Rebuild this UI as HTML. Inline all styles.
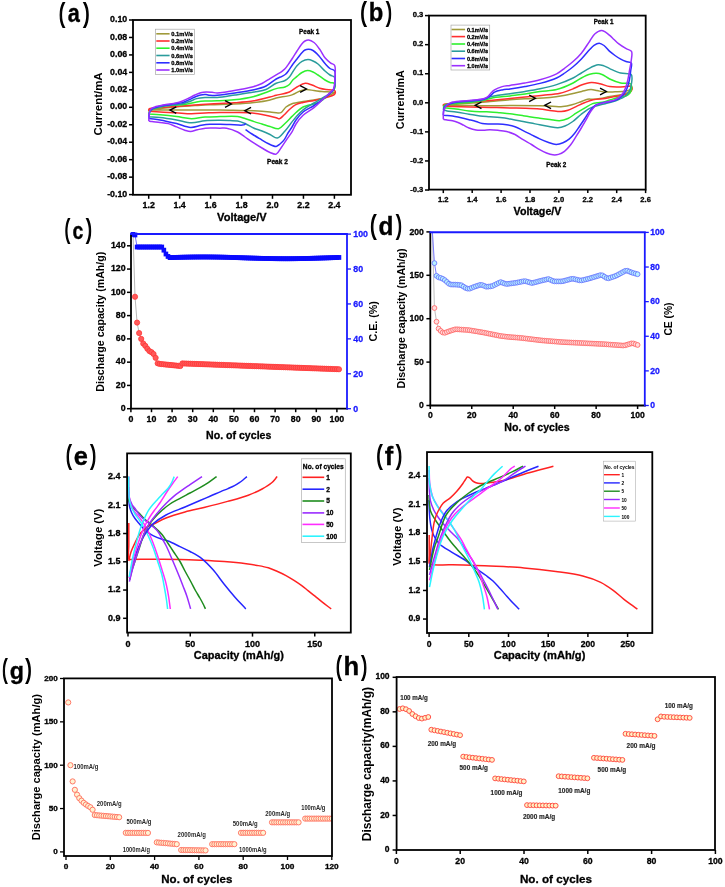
<!DOCTYPE html>
<html><head><meta charset="utf-8"><style>
html,body{margin:0;padding:0;background:#fff;}
svg{display:block;font-family:"Liberation Sans", sans-serif;will-change:transform;filter:blur(0.35px);}
</style></head><body>
<svg width="725" height="887" viewBox="0 0 725 887">
<rect width="725" height="887" fill="#fff"/>
<line x1="129" y1="20" x2="133" y2="20" stroke="#000" stroke-width="1.5"/>
<text x="127.2" y="22.17" font-size="8.8" text-anchor="end" font-weight="bold" stroke="#000" stroke-width="0.3">0.10</text>
<line x1="129" y1="37.46" x2="133" y2="37.46" stroke="#000" stroke-width="1.5"/>
<text x="127.2" y="39.63" font-size="8.8" text-anchor="end" font-weight="bold" stroke="#000" stroke-width="0.3">0.08</text>
<line x1="129" y1="54.92" x2="133" y2="54.92" stroke="#000" stroke-width="1.5"/>
<text x="127.2" y="57.09" font-size="8.8" text-anchor="end" font-weight="bold" stroke="#000" stroke-width="0.3">0.06</text>
<line x1="129" y1="72.38" x2="133" y2="72.38" stroke="#000" stroke-width="1.5"/>
<text x="127.2" y="74.55" font-size="8.8" text-anchor="end" font-weight="bold" stroke="#000" stroke-width="0.3">0.04</text>
<line x1="129" y1="89.84" x2="133" y2="89.84" stroke="#000" stroke-width="1.5"/>
<text x="127.2" y="92.01" font-size="8.8" text-anchor="end" font-weight="bold" stroke="#000" stroke-width="0.3">0.02</text>
<line x1="129" y1="107.3" x2="133" y2="107.3" stroke="#000" stroke-width="1.5"/>
<text x="127.2" y="109.47" font-size="8.8" text-anchor="end" font-weight="bold" stroke="#000" stroke-width="0.3">0.00</text>
<line x1="129" y1="124.76" x2="133" y2="124.76" stroke="#000" stroke-width="1.5"/>
<text x="127.2" y="126.93" font-size="8.8" text-anchor="end" font-weight="bold" stroke="#000" stroke-width="0.3">-0.02</text>
<line x1="129" y1="142.22" x2="133" y2="142.22" stroke="#000" stroke-width="1.5"/>
<text x="127.2" y="144.39" font-size="8.8" text-anchor="end" font-weight="bold" stroke="#000" stroke-width="0.3">-0.04</text>
<line x1="129" y1="159.68" x2="133" y2="159.68" stroke="#000" stroke-width="1.5"/>
<text x="127.2" y="161.85" font-size="8.8" text-anchor="end" font-weight="bold" stroke="#000" stroke-width="0.3">-0.06</text>
<line x1="129" y1="177.14" x2="133" y2="177.14" stroke="#000" stroke-width="1.5"/>
<text x="127.2" y="179.31" font-size="8.8" text-anchor="end" font-weight="bold" stroke="#000" stroke-width="0.3">-0.08</text>
<line x1="129" y1="194.6" x2="133" y2="194.6" stroke="#000" stroke-width="1.5"/>
<text x="127.2" y="196.77" font-size="8.8" text-anchor="end" font-weight="bold" stroke="#000" stroke-width="0.3">-0.10</text>
<line x1="148.7" y1="194.8" x2="148.7" y2="198.8" stroke="#000" stroke-width="1.5"/>
<text x="148.7" y="208.4" font-size="8.8" text-anchor="middle" font-weight="bold" stroke="#000" stroke-width="0.3">1.2</text>
<line x1="179.65" y1="194.8" x2="179.65" y2="198.8" stroke="#000" stroke-width="1.5"/>
<text x="179.65" y="208.4" font-size="8.8" text-anchor="middle" font-weight="bold" stroke="#000" stroke-width="0.3">1.4</text>
<line x1="210.6" y1="194.8" x2="210.6" y2="198.8" stroke="#000" stroke-width="1.5"/>
<text x="210.6" y="208.4" font-size="8.8" text-anchor="middle" font-weight="bold" stroke="#000" stroke-width="0.3">1.6</text>
<line x1="241.55" y1="194.8" x2="241.55" y2="198.8" stroke="#000" stroke-width="1.5"/>
<text x="241.55" y="208.4" font-size="8.8" text-anchor="middle" font-weight="bold" stroke="#000" stroke-width="0.3">1.8</text>
<line x1="272.5" y1="194.8" x2="272.5" y2="198.8" stroke="#000" stroke-width="1.5"/>
<text x="272.5" y="208.4" font-size="8.8" text-anchor="middle" font-weight="bold" stroke="#000" stroke-width="0.3">2.0</text>
<line x1="303.45" y1="194.8" x2="303.45" y2="198.8" stroke="#000" stroke-width="1.5"/>
<text x="303.45" y="208.4" font-size="8.8" text-anchor="middle" font-weight="bold" stroke="#000" stroke-width="0.3">2.2</text>
<line x1="334.4" y1="194.8" x2="334.4" y2="198.8" stroke="#000" stroke-width="1.5"/>
<text x="334.4" y="208.4" font-size="8.8" text-anchor="middle" font-weight="bold" stroke="#000" stroke-width="0.3">2.4</text>
<text x="241.9" y="220.9" font-size="10.8" text-anchor="middle" font-weight="bold" textLength="49.6" lengthAdjust="spacingAndGlyphs" stroke="#000" stroke-width="0.3">Voltage/V</text>
<text x="101.76" y="103.9" font-size="11.4" font-weight="bold" text-anchor="middle" fill="#000" textLength="63" lengthAdjust="spacingAndGlyphs" transform="rotate(-90 101.76 103.9)">Current/mA</text>
<path d="M148.7,109.8 C152.47,109.37 155.9,108.93 160,108.5 C164.87,107.99 170.44,107.47 176,107 C182.06,106.49 189.04,106 195,105.6 C200.29,105.25 204.41,104.95 210,104.7 C217.06,104.39 226.36,104.4 234,104 C241,103.64 247.81,103.25 254.1,102.5 C259.73,101.83 265.95,100.85 270,99.9 C272.57,99.3 273.64,98.64 276.2,98 C280.24,96.99 287.7,96.34 292,94.9 C295.2,93.83 297.48,91.9 300,91 C302.1,90.25 303.84,89.73 306,89.6 C308.46,89.46 311.33,90.18 314,90.5 C316.67,90.82 319.19,91.24 322,91.5 C325.1,91.79 329.53,91.87 331.8,92.1 C333.02,92.22 334.54,92.16 334.6,92.5 C334.68,92.96 331.55,94.14 330,95 C328.41,95.88 327.21,96.95 325.2,97.7 C322.31,98.78 317.72,99.36 314,100 C310.35,100.62 306.74,100.89 303.1,101.5 C299.41,102.12 295.06,102.58 292,103.7 C289.62,104.57 287.8,105.57 286,107 C284.11,108.5 282.61,111.75 281,112.6 C279.98,113.14 279.24,112.99 278,113 C275.97,113.01 273.12,112.31 270,112 C265.61,111.56 259.24,111.05 254.1,110.8 C249.26,110.57 245.11,110.62 240,110.5 C233.91,110.36 227.34,110.09 220,110 C211.01,109.89 200,110 190,110 C180,110 167.54,110.03 160,110 C155.43,109.98 152.67,109.93 149,109.9" fill="none" stroke="#a09a3a" stroke-width="1.5" stroke-linejoin="round"/>
<path d="M148.9,111.2 C148.87,110.67 148.67,110.05 148.8,109.6 C148.91,109.21 149.11,108.85 149.5,108.6 C150.11,108.21 151.27,108.25 152.5,108.1 C154.43,107.86 157.03,107.72 160,107.5 C164.33,107.18 170.44,106.8 176,106.4 C182.06,105.97 189.04,105.42 195,105 C200.29,104.63 204.41,104.33 210,104 C217.06,103.59 226.36,103.37 234,102.8 C241,102.28 247.83,101.86 254.1,100.8 C259.74,99.85 265.93,98.04 270,97 C272.55,96.35 273.74,95.94 276.2,95.3 C279.77,94.36 285.72,93.62 289.4,92 C292.41,90.68 294.35,88.45 297,87 C299.65,85.55 302.64,83.53 305.3,83.3 C307.62,83.1 309.72,84.23 312,85 C314.51,85.85 317.22,87.54 319.7,88.3 C321.87,88.96 323.94,89.23 326,89.5 C327.97,89.75 330.2,89.61 331.8,89.9 C332.98,90.11 334.32,90.11 334.8,90.8 C335.31,91.53 335.33,93.32 334.6,94.3 C333.36,95.96 328.49,96.71 325.2,97.7 C321.68,98.76 317.81,99.6 314.1,100.4 C310.41,101.2 306.33,101.68 303,102.5 C300.21,103.18 297.63,103.65 295.4,104.8 C293.33,105.87 291.8,107.41 290,109 C288,110.77 285.89,113.26 284,115 C282.42,116.45 280.96,118.52 279.5,118.8 C278.38,119.02 277.7,118.12 276.2,117.7 C273.13,116.85 266.68,115.32 262,114.5 C257.49,113.71 253.44,113.13 248.6,112.8 C242.92,112.41 235.25,112.68 230,112.6 C226.15,112.54 223.67,112.36 220,112.4 C215.5,112.44 209.87,112.78 205,113 C200.38,113.21 196.15,113.71 191.5,113.7 C186.51,113.68 181.21,113.08 176,112.8 C170.71,112.51 164.85,112.3 160,112 C155.96,111.75 152.6,111.47 148.9,111.2" fill="none" stroke="#ff2e2e" stroke-width="1.5" stroke-linejoin="round"/>
<path d="M148.9,113.9 C149.03,113.17 148.97,112.37 149.3,111.7 C149.65,110.99 150.23,110.31 151,109.8 C151.99,109.14 153.58,108.8 155,108.4 C156.56,107.96 158.26,107.72 160,107.3 C161.91,106.83 163.48,106.1 166,105.7 C170.13,105.04 177.32,105.48 182.6,104.8 C187.52,104.16 192.61,102.54 196.7,101.9 C199.82,101.41 201.96,101.19 205,101 C208.67,100.77 212.81,100.97 217.2,100.8 C222.35,100.6 228.17,100.46 234,99.8 C240.42,99.07 248.32,97.83 254.1,96.4 C258.63,95.28 262.2,93.85 266,92.5 C269.55,91.24 272.88,89.53 276.2,88.6 C279.2,87.76 282.63,87.86 285,87 C286.78,86.35 288.1,85.63 289.4,84.5 C290.8,83.28 291.69,81.18 293,79.8 C294.23,78.5 295.58,77.56 297,76.4 C298.56,75.13 300.21,73.47 302,72.5 C303.72,71.57 305.66,70.68 307.5,70.6 C309.32,70.52 311.26,71.28 313,72 C314.76,72.73 316.22,73.83 318,75 C320.16,76.42 322.81,78.68 325,80 C326.76,81.06 328.33,81.91 330,82.5 C331.53,83.04 333.81,82.56 334.6,83.5 C335.38,84.42 335.17,86.77 334.8,88 C334.5,89.02 333.74,89.71 333,90.5 C332.17,91.39 331.29,91.9 330,93 C327.58,95.06 323.83,99.71 319.7,102 C315.05,104.57 307.33,104.82 303.1,107 C300.06,108.57 297.99,110.77 296,112.5 C294.43,113.86 293.51,114.9 292,116.4 C289.98,118.41 287.34,121.36 285,123.5 C282.87,125.45 281.05,128.27 278.6,128.8 C276.07,129.35 272.81,127.31 270,126.5 C267.28,125.71 264.66,124.82 262,124 C259.36,123.19 256.82,122.48 254.1,121.6 C251.17,120.65 247.89,119.36 245,118.5 C242.42,117.73 240.62,116.98 237.6,116.6 C233.01,116.02 225.63,116.52 220,116.6 C214.8,116.67 209.86,116.63 205,117 C200.37,117.35 196.11,118.73 191.5,118.7 C186.65,118.66 181.71,117.24 176.6,116.6 C171.22,115.93 164.98,115.27 160,114.8 C155.93,114.41 152.6,114.2 148.9,113.9" fill="none" stroke="#2ef02e" stroke-width="1.5" stroke-linejoin="round"/>
<path d="M148.9,116.8 C149,115.8 148.96,114.77 149.2,113.8 C149.45,112.81 149.76,111.72 150.4,110.9 C151.07,110.04 152.08,109.37 153.2,108.8 C154.54,108.12 156.18,107.76 158,107.3 C160.31,106.71 162.84,106.21 166,105.7 C170.52,104.98 178.26,104.63 182.6,103.7 C185.5,103.08 187.36,102.34 189.7,101.5 C192.06,100.65 194.22,99.27 196.7,98.6 C199.31,97.9 201.96,97.7 205,97.5 C208.67,97.26 212.76,97.81 217.2,97.5 C222.59,97.12 228.97,95.9 235,95 C241.26,94.07 248.49,93.03 254.1,92 C258.55,91.18 262.3,90.96 266,89.5 C269.66,88.05 272.83,84.83 276.2,83.3 C279.16,81.95 282.66,81.75 285,80.5 C286.83,79.53 288.1,78.42 289.4,77 C290.8,75.46 291.75,73.34 293,71.5 C294.28,69.61 295.48,67.51 297,65.8 C298.49,64.12 300.12,62.34 302,61.3 C303.81,60.3 306.09,59.6 308,59.6 C309.74,59.6 311.38,60.3 313,61 C314.72,61.74 316.28,62.66 318,64 C320.24,65.75 322.81,69.04 325,71 C326.76,72.58 328.31,73.9 330,75 C331.52,75.99 333.74,76.02 334.6,77.4 C335.65,79.08 334.98,82.88 334.8,85 C334.67,86.55 334.52,87.81 334,89 C333.5,90.13 332.85,90.99 331.8,92 C330.24,93.49 327.56,94.9 325,96.5 C321.79,98.51 317.65,100.79 314,103 C310.34,105.22 306.22,107.3 303.1,109.8 C300.33,112.02 297.99,114.79 296,117 C294.43,118.75 293.5,120 292,121.9 C289.97,124.46 287.51,128.25 285,131 C282.6,133.63 279.97,137.71 277.3,138.1 C274.95,138.44 272.5,135.66 270,134.5 C267.41,133.29 264.68,132.06 262,131 C259.38,129.96 256.79,129.36 254.1,128.2 C251.13,126.91 247.92,124.74 245,123.5 C242.45,122.42 240.12,121.48 237.6,121 C235.12,120.52 232.71,120.71 230,120.6 C226.9,120.47 223.67,120.31 220,120.3 C215.51,120.29 209.85,120.26 205,120.7 C200.37,121.12 196.1,122.89 191.5,122.8 C186.65,122.71 181.71,120.78 176.6,119.9 C171.23,118.97 164.99,117.91 160,117.4 C155.94,116.99 152.6,117 148.9,116.8" fill="none" stroke="#2a9c9c" stroke-width="1.5" stroke-linejoin="round"/>
<path d="M148.9,118.5 C148.97,117.27 148.92,116.02 149.1,114.8 C149.28,113.58 149.44,112.23 150,111.2 C150.53,110.21 151.35,109.34 152.3,108.7 C153.32,108.01 154.74,107.74 156,107.3 C157.3,106.84 158.52,106.35 160,106 C161.78,105.58 163.75,105.45 166,105.1 C168.91,104.65 173.01,103.94 176,103.5 C178.43,103.14 180.4,103.22 182.6,102.6 C184.97,101.93 187.51,100.49 189.7,99.5 C191.6,98.64 193.18,97.76 195,97 C196.85,96.23 198.81,95.29 200.7,94.9 C202.47,94.53 204.36,94.5 206,94.6 C207.43,94.68 208.47,95.18 210,95.3 C212.04,95.46 214.27,95.4 217.2,95.2 C221.82,94.88 228.97,93.88 235,93 C241.26,92.09 248.53,91.15 254.1,89.8 C258.58,88.72 262.31,87.81 266,86 C269.67,84.2 273.21,80.7 276.2,79 C278.35,77.77 280.33,77.17 282,76.3 C283.33,75.61 284.4,75.23 285.5,74.3 C286.8,73.2 287.92,71.51 289.1,69.9 C290.42,68.11 291.65,65.86 293,64 C294.29,62.23 295.63,60.75 297,59 C298.49,57.1 300.11,54.6 301.6,53 C302.76,51.76 303.76,50.61 305,50 C306.11,49.45 307.35,49.25 308.6,49.3 C310,49.35 311.52,49.68 313,50.5 C314.98,51.59 317.08,53.94 319,56 C321.09,58.24 323.03,61.3 325,63.5 C326.69,65.39 328.26,67.25 330,68.5 C331.48,69.57 333.67,69.32 334.6,70.8 C335.98,72.98 334.97,78.78 334.8,82 C334.67,84.46 334.67,86.81 334,88.5 C333.5,89.77 332.8,90.39 331.8,91.5 C330.25,93.23 327.76,95.43 325.2,97.5 C322.02,100.07 317.76,103.04 314,105.5 C310.39,107.86 306.18,109.45 303.1,112 C300.27,114.34 297.92,117.32 296,120 C294.33,122.32 293.37,124.78 292,127 C290.7,129.1 289.27,130.93 288,133 C286.7,135.12 285.72,137.7 284.3,139.6 C283.02,141.31 281.46,142.82 280,144 C278.75,145.01 277.76,146.23 276.2,146.4 C274.03,146.64 270.69,144.74 268,143.5 C265.18,142.2 262.41,140.31 259.7,138.7 C257.08,137.14 254.44,135.57 252,134 C249.72,132.54 247.67,131.07 245.5,129.6" fill="none" stroke="#2e2eff" stroke-width="1.5" stroke-linejoin="round"/>
<path d="M245.8,123.4 C245.4,123.8 245.12,124.32 244.6,124.6 C243.99,124.93 243.38,125.01 242.3,125.1 C239.83,125.31 233.89,124.76 230,124.6 C226.49,124.46 223.33,124.25 220,124.2 C216.67,124.15 213.2,124.1 210,124.3 C207.02,124.49 204.42,124.83 201.4,125.3 C198,125.83 194.42,127.54 190.6,127.4 C186.22,127.24 181.48,124.81 176.6,123.6 C171.32,122.29 164.71,120.71 160,119.9 C156.56,119.31 152.95,119.06 151,118.8 C150.06,118.67 149.6,118.6 148.9,118.5" fill="none" stroke="#2e2eff" stroke-width="1.5" stroke-linejoin="round"/>
<path d="M148.8,121 C148.87,119.5 148.87,118.01 149,116.5 C149.13,114.95 149.15,113.15 149.6,111.8 C149.98,110.65 150.51,109.57 151.3,108.8 C152.08,108.04 153.11,107.66 154.3,107.2 C155.87,106.6 158.07,106.23 160,105.8 C161.97,105.36 163.74,105 166,104.6 C168.9,104.09 173.04,103.79 176,103.1 C178.45,102.53 180.39,101.86 182.6,101 C184.95,100.08 187.51,98.76 189.7,97.7 C191.6,96.77 193.18,95.83 195,95 C196.85,94.16 198.79,93.22 200.7,92.7 C202.52,92.21 204.34,91.97 206.2,91.9 C208.1,91.83 210.12,92.11 212,92.3 C213.78,92.48 215.24,92.98 217.2,93 C219.75,93.03 222.74,92.48 226,92 C230.14,91.4 235.33,90.41 240,89.5 C244.7,88.58 250.11,87.67 254.1,86.5 C257.15,85.6 259.42,84.77 262,83.5 C264.72,82.16 267.5,80.13 270,78.6 C272.2,77.25 274.17,76.04 276.2,74.8 C278.16,73.61 280.42,72.43 282,71.3 C283.2,70.44 283.99,69.87 285,68.8 C286.34,67.38 287.78,65.18 289.1,63.3 C290.44,61.39 291.7,59.42 293,57.4 C294.34,55.32 295.6,53.15 297,51 C298.46,48.75 300.08,45.98 301.6,44.2 C302.74,42.86 303.76,41.72 305,41 C306.11,40.35 307.3,39.8 308.6,39.9 C310.24,40.03 312.31,41.18 314,42.5 C316.06,44.1 317.9,46.82 319.7,49.3 C321.65,51.98 323.19,55.69 325.2,58.1 C326.9,60.14 328.96,61.84 330.7,63.1 C332.05,64.08 333.75,63.87 334.6,65.3 C336.14,67.9 334.98,75.84 334.8,80 C334.67,83.07 334.75,86.05 334,88 C333.49,89.33 332.8,89.89 331.8,91 C330.25,92.73 327.68,94.7 325.2,97 C321.94,100.02 317.82,104.47 314,107.6 C310.44,110.51 306.18,112.42 303.1,115.3 C300.27,117.94 297.91,121.07 296,124 C294.31,126.61 293.54,129.34 292,131.9 C290.42,134.54 288.4,136.97 286.6,139.6 C284.73,142.33 282.84,145.46 281,148 C279.38,150.23 278.15,153.44 276.2,154.1 C274.43,154.7 272.14,153.36 270,152.5 C267.44,151.47 264.64,149.56 262,148 C259.34,146.43 256.81,144.85 254.1,143.1 C251.16,141.2 247.87,138.93 245,137 C242.4,135.25 240.41,133.41 237.6,132 C234.39,130.39 229.84,128.74 226.6,128.2 C224.16,127.79 222.63,128.2 220,128.2 C216.11,128.2 209.63,127.8 205.5,128.2 C202.36,128.5 199.89,129.22 197.3,129.8 C194.95,130.33 192.76,131.47 190.6,131.5 C188.6,131.53 186.87,130.84 184.8,130.2 C182.27,129.41 179.34,128 176.6,126.9 C173.84,125.8 171.11,124.35 168.3,123.6 C165.58,122.87 162.74,122.75 160,122.4 C157.31,122.05 154.06,121.78 152,121.5 C150.69,121.32 149.87,121.17 148.8,121" fill="none" stroke="#9b30ff" stroke-width="1.5" stroke-linejoin="round"/>
<rect x="155.4" y="29.2" width="39" height="45.4" fill="#fff" stroke="#a8a8a8" stroke-width="0.7"/>
<line x1="156.3" y1="33.8" x2="169.6" y2="33.8" stroke="#a09a3a" stroke-width="1.6"/>
<text x="171.3" y="36.03" font-size="6.2" font-weight="bold" textLength="21.7" lengthAdjust="spacingAndGlyphs" stroke="#000" stroke-width="0.3">0.1mV/s</text>
<line x1="156.3" y1="41" x2="169.6" y2="41" stroke="#ff2e2e" stroke-width="1.6"/>
<text x="171.3" y="43.23" font-size="6.2" font-weight="bold" textLength="21.7" lengthAdjust="spacingAndGlyphs" stroke="#000" stroke-width="0.3">0.2mV/s</text>
<line x1="156.3" y1="48.2" x2="169.6" y2="48.2" stroke="#2ef02e" stroke-width="1.6"/>
<text x="171.3" y="50.43" font-size="6.2" font-weight="bold" textLength="21.7" lengthAdjust="spacingAndGlyphs" stroke="#000" stroke-width="0.3">0.4mV/s</text>
<line x1="156.3" y1="55.5" x2="169.6" y2="55.5" stroke="#2a9c9c" stroke-width="1.6"/>
<text x="171.3" y="57.73" font-size="6.2" font-weight="bold" textLength="21.7" lengthAdjust="spacingAndGlyphs" stroke="#000" stroke-width="0.3">0.6mV/s</text>
<line x1="156.3" y1="62.8" x2="169.6" y2="62.8" stroke="#2e2eff" stroke-width="1.6"/>
<text x="171.3" y="65.03" font-size="6.2" font-weight="bold" textLength="21.7" lengthAdjust="spacingAndGlyphs" stroke="#000" stroke-width="0.3">0.8mV/s</text>
<line x1="156.3" y1="70" x2="169.6" y2="70" stroke="#9b30ff" stroke-width="1.6"/>
<text x="171.3" y="72.23" font-size="6.2" font-weight="bold" textLength="21.7" lengthAdjust="spacingAndGlyphs" stroke="#000" stroke-width="0.3">1.0mV/s</text>
<path d="M176.27,106.8 L170,110.1 L176.27,113.4" fill="none" stroke="#000" stroke-width="1.4"/>
<path d="M225.03,100.7 L231.3,104 L225.03,107.3" fill="none" stroke="#000" stroke-width="1.4"/>
<path d="M251.07,107.4 L244.8,110.7 L251.07,114" fill="none" stroke="#000" stroke-width="1.4"/>
<path d="M300.13,85.7 L306.4,89 L300.13,92.3" fill="none" stroke="#000" stroke-width="1.4"/>
<text x="309.2" y="33.7" font-size="6.4" text-anchor="middle" font-weight="bold" textLength="20.3" lengthAdjust="spacingAndGlyphs" stroke="#000" stroke-width="0.3">Peak 1</text>
<text x="277.4" y="164.2" font-size="6.5" text-anchor="middle" font-weight="bold" textLength="20.8" lengthAdjust="spacingAndGlyphs" stroke="#000" stroke-width="0.3">Peak 2</text>
<rect x="133" y="20" width="218" height="174.8" fill="none" stroke="#000" stroke-width="1.8"/>
<line x1="425" y1="15.6" x2="429" y2="15.6" stroke="#000" stroke-width="1.5"/>
<text x="423.3" y="17.34" font-size="7.6" text-anchor="end" font-weight="bold" stroke="#000" stroke-width="0.3">0.3</text>
<line x1="425" y1="44.67" x2="429" y2="44.67" stroke="#000" stroke-width="1.5"/>
<text x="423.3" y="46.41" font-size="7.6" text-anchor="end" font-weight="bold" stroke="#000" stroke-width="0.3">0.2</text>
<line x1="425" y1="73.74" x2="429" y2="73.74" stroke="#000" stroke-width="1.5"/>
<text x="423.3" y="75.48" font-size="7.6" text-anchor="end" font-weight="bold" stroke="#000" stroke-width="0.3">0.1</text>
<line x1="425" y1="102.81" x2="429" y2="102.81" stroke="#000" stroke-width="1.5"/>
<text x="423.3" y="104.55" font-size="7.6" text-anchor="end" font-weight="bold" stroke="#000" stroke-width="0.3">0.0</text>
<line x1="425" y1="131.88" x2="429" y2="131.88" stroke="#000" stroke-width="1.5"/>
<text x="423.3" y="133.62" font-size="7.6" text-anchor="end" font-weight="bold" stroke="#000" stroke-width="0.3">-0.1</text>
<line x1="425" y1="160.95" x2="429" y2="160.95" stroke="#000" stroke-width="1.5"/>
<text x="423.3" y="162.69" font-size="7.6" text-anchor="end" font-weight="bold" stroke="#000" stroke-width="0.3">-0.2</text>
<line x1="425" y1="190.02" x2="429" y2="190.02" stroke="#000" stroke-width="1.5"/>
<text x="423.3" y="191.76" font-size="7.6" text-anchor="end" font-weight="bold" stroke="#000" stroke-width="0.3">-0.3</text>
<line x1="443.3" y1="189.6" x2="443.3" y2="193.1" stroke="#000" stroke-width="1.5"/>
<text x="443.3" y="202.3" font-size="7.6" text-anchor="middle" font-weight="bold" stroke="#000" stroke-width="0.3">1.2</text>
<line x1="472.2" y1="189.6" x2="472.2" y2="193.1" stroke="#000" stroke-width="1.5"/>
<text x="472.2" y="202.3" font-size="7.6" text-anchor="middle" font-weight="bold" stroke="#000" stroke-width="0.3">1.4</text>
<line x1="501.1" y1="189.6" x2="501.1" y2="193.1" stroke="#000" stroke-width="1.5"/>
<text x="501.1" y="202.3" font-size="7.6" text-anchor="middle" font-weight="bold" stroke="#000" stroke-width="0.3">1.6</text>
<line x1="530" y1="189.6" x2="530" y2="193.1" stroke="#000" stroke-width="1.5"/>
<text x="530" y="202.3" font-size="7.6" text-anchor="middle" font-weight="bold" stroke="#000" stroke-width="0.3">1.8</text>
<line x1="558.9" y1="189.6" x2="558.9" y2="193.1" stroke="#000" stroke-width="1.5"/>
<text x="558.9" y="202.3" font-size="7.6" text-anchor="middle" font-weight="bold" stroke="#000" stroke-width="0.3">2.0</text>
<line x1="587.8" y1="189.6" x2="587.8" y2="193.1" stroke="#000" stroke-width="1.5"/>
<text x="587.8" y="202.3" font-size="7.6" text-anchor="middle" font-weight="bold" stroke="#000" stroke-width="0.3">2.2</text>
<line x1="616.7" y1="189.6" x2="616.7" y2="193.1" stroke="#000" stroke-width="1.5"/>
<text x="616.7" y="202.3" font-size="7.6" text-anchor="middle" font-weight="bold" stroke="#000" stroke-width="0.3">2.4</text>
<line x1="645.6" y1="189.6" x2="645.6" y2="193.1" stroke="#000" stroke-width="1.5"/>
<text x="645.6" y="202.3" font-size="7.6" text-anchor="middle" font-weight="bold" stroke="#000" stroke-width="0.3">2.6</text>
<text x="537.5" y="214.6" font-size="10.6" text-anchor="middle" font-weight="bold" textLength="47.9" lengthAdjust="spacingAndGlyphs" stroke="#000" stroke-width="0.3">Voltage/V</text>
<text x="404.36" y="99.7" font-size="10.8" font-weight="bold" text-anchor="middle" fill="#000" textLength="59" lengthAdjust="spacingAndGlyphs" transform="rotate(-90 404.36 99.7)">Current/mA</text>
<path d="M443.2,104.8 C451.83,104.27 460.93,103.78 469.1,103.2 C476.44,102.67 483.11,102.09 490,101.5 C496.74,100.92 503.81,100.16 510,99.7 C515.36,99.3 519.76,99.07 525,98.8 C530.75,98.5 537.58,98.38 543.1,98 C547.77,97.68 552.07,97.3 556,96.8 C559.33,96.37 562.27,95.88 565.2,95.3 C567.92,94.77 570.33,94.13 573,93.5 C575.82,92.83 578.75,92.04 581.7,91.4 C584.72,90.74 588.14,89.66 590.9,89.6 C593.14,89.55 594.9,90.12 597,90.5 C599.28,90.91 601.46,91.75 604.1,92 C607.33,92.31 611.34,91.96 615,91.8 C618.71,91.63 623.2,91.59 626.2,91 C628.29,90.59 631.21,88.97 631.4,89.3 C631.58,89.6 629.47,91.64 628,92.5 C626.12,93.6 623.39,94.17 620.7,94.8 C617.5,95.55 613.5,95.87 610,96.5 C606.6,97.11 603.04,98.04 600,98.5 C597.5,98.88 595.27,99.09 593.1,99.2 C591.17,99.3 589.48,98.86 587.6,99.2 C585.47,99.59 583.38,100.84 581,101.7 C578.24,102.7 575.05,103.98 572,104.8 C568.98,105.61 566,106.35 562.8,106.6 C559.36,106.87 555.72,106.33 552,106.2 C548.03,106.06 544.69,105.9 539.7,105.8 C531.95,105.65 518.92,105.59 510,105.6 C502.68,105.61 496.67,105.8 490,105.8 C483.33,105.8 477.14,105.66 470,105.6 C461.76,105.53 452.27,105.47 443.4,105.4" fill="none" stroke="#a09a3a" stroke-width="1.5" stroke-linejoin="round"/>
<path d="M443.4,106 C443.37,105.63 443.14,105.18 443.3,104.9 C443.47,104.59 443.85,104.49 444.5,104.3 C446.73,103.66 454.49,103.24 460,102.8 C466.26,102.29 473.9,102.01 480.1,101.5 C485.44,101.06 490.02,100.48 495,100 C499.99,99.52 505,99.1 510,98.6 C515,98.1 519.76,97.53 525,97 C530.75,96.42 537.17,95.95 543.1,95.3 C548.83,94.67 554.78,94.39 560,93.2 C564.7,92.13 569.26,90.32 573.1,88.8 C576.22,87.57 578.46,86.02 581.4,85 C584.51,83.92 588.09,82.76 591.3,82.6 C594.28,82.45 597.04,83.17 600,83.8 C603.17,84.47 606.56,86.08 609.7,86.6 C612.55,87.07 615.24,87 618,87 C620.74,87 623.79,86.73 626.2,86.6 C628.1,86.5 630.38,85.6 631.3,86.3 C632.03,86.86 632.26,88.47 632,89.5 C631.69,90.72 630.26,92.1 629,93 C627.64,93.98 625.94,94.46 624,95 C621.47,95.71 618.07,95.94 615,96.5 C611.75,97.1 608.49,97.96 605,98.5 C601.22,99.08 596.65,99.02 593.1,99.8 C590.1,100.46 587.73,101.42 585,102.5 C582.07,103.66 579,105.27 576.1,106.6 C573.34,107.87 570.63,109.46 568,110.3 C565.68,111.04 563.65,111.47 561.2,111.6 C558.37,111.74 555.28,111.17 552,110.8 C548.19,110.37 543.99,109.51 539.7,109.1 C535.03,108.65 529.93,108.48 525,108.3 C520.03,108.11 515.36,108.13 510,108 C503.81,107.85 496.67,107.55 490,107.4 C483.33,107.25 476.43,107.26 470,107.1 C464,106.95 457.48,106.72 452.6,106.5 C449.05,106.34 446.47,106.17 443.4,106" fill="none" stroke="#ff2e2e" stroke-width="1.5" stroke-linejoin="round"/>
<path d="M443.4,107.5 C443.53,106.97 443.49,106.35 443.8,105.9 C444.15,105.39 444.75,105.02 445.5,104.7 C446.61,104.22 447.97,104.07 450,103.8 C454.15,103.25 463.2,103.11 469.1,102.5 C474.22,101.97 479.38,101.37 483.4,100.5 C486.42,99.85 488,98.86 491.2,98.2 C496.08,97.19 504.09,96.64 510,95.9 C515.28,95.24 520.01,94.73 525,94 C530.01,93.27 534.86,92.22 540,91.5 C545.38,90.74 551.17,90.97 556.6,89.6 C562.2,88.19 568.61,85.23 573.1,83 C576.42,81.35 578.59,79.47 581.4,78 C584.12,76.58 587.03,75.08 589.7,74.3 C592.01,73.63 594.27,73.23 596.4,73.3 C598.36,73.36 600.05,73.74 602,74.5 C604.43,75.44 606.84,77.66 609.7,79 C612.98,80.54 617.06,82.17 620.7,83 C624.09,83.77 629.21,82.48 630.8,84 C631.92,85.07 631.67,87.45 631.5,89 C631.34,90.43 630.85,91.86 630,93 C629.08,94.23 627.67,95.27 626,96 C623.87,96.93 620.65,96.84 618,97.5 C615.31,98.17 612.46,99.2 610,100 C607.88,100.69 606.18,101.54 604.1,102 C601.87,102.5 599.08,102.49 597,102.8 C595.35,103.04 594.25,103 592.6,103.6 C590.14,104.49 586.8,106.87 584,108.5 C581.3,110.07 578.73,111.56 576.1,113.2 C573.4,114.89 570.84,117.24 568,118.5 C565.29,119.7 562.43,120.51 559.5,120.7 C556.44,120.9 553.23,119.91 550,119.5 C546.64,119.08 542.99,118.63 539.7,118.2 C536.68,117.8 533.83,117.43 531,117 C528.3,116.59 526.07,116.16 523.1,115.7 C519.28,115.11 514.08,114.3 510,113.8 C506.45,113.36 503.33,113.12 500,112.8 C496.67,112.48 493.34,112.07 490,111.9 C486.67,111.73 483.4,111.96 480,111.8 C476.44,111.64 472.89,111.33 469.1,110.9 C464.93,110.43 459.96,109.49 456,109 C452.72,108.6 449.32,108.41 447,108.1 C445.53,107.9 444.6,107.7 443.4,107.5" fill="none" stroke="#2ef02e" stroke-width="1.5" stroke-linejoin="round"/>
<path d="M443.4,110 C443.5,109.2 443.43,108.34 443.7,107.6 C443.97,106.87 444.38,106.15 445,105.6 C445.74,104.94 446.76,104.53 448,104.1 C449.81,103.48 452.25,103.09 455,102.7 C458.87,102.15 464.39,101.98 469.1,101.5 C473.85,101.02 479.41,100.84 483.4,99.8 C486.45,99.01 488.48,97.4 491.2,96.6 C494,95.78 496.97,95.47 500,95 C503.22,94.5 506.33,94.21 510,93.7 C514.5,93.08 520.01,92.32 525,91.5 C530.01,90.68 534.89,89.9 540,88.8 C545.41,87.63 551.13,86.38 556.6,84.6 C562.17,82.79 568.61,80.23 573.1,78 C576.42,76.35 578.63,74.65 581.4,73 C584.16,71.35 587.36,69.36 589.7,68.1 C591.35,67.21 592.56,66.58 594,66 C595.36,65.45 596.66,64.8 598.1,64.7 C599.65,64.59 601.28,64.97 603,65.5 C605.1,66.14 607.18,67.51 609.7,68.6 C612.9,69.98 617.02,72 620.7,73 C624.19,73.95 629.47,72.63 631.2,74.6 C632.83,76.46 631.8,81.02 631.4,84 C631.02,86.81 630.33,89.78 629,92 C627.78,94.04 626.07,95.58 624,97 C621.56,98.68 618.2,99.86 615,101 C611.56,102.23 607.38,103.12 604,104 C601.13,104.75 598.52,105.2 596,106 C593.64,106.75 591.57,107.37 589.3,108.6 C586.59,110.06 583.71,112.38 581,114.5 C578.21,116.68 575.59,119.53 572.8,121.5 C570.25,123.3 567.61,124.94 565,126 C562.64,126.96 560.41,127.67 557.9,127.8 C555.11,127.94 551.99,126.99 549,126.5 C545.93,126 542.74,125.39 539.7,124.8 C536.75,124.22 533.83,123.56 531,123 C528.31,122.47 526.06,122.06 523.1,121.5 C519.28,120.77 514.08,119.67 510,119 C506.45,118.41 503.34,117.97 500,117.6 C496.67,117.23 493.33,117.07 490,116.8 C486.67,116.53 483.4,116.42 480,116 C476.44,115.56 472.9,114.83 469.1,114.2 C464.93,113.51 459.96,112.57 456,112 C452.73,111.53 449.31,111.33 447,110.9 C445.52,110.63 444.6,110.3 443.4,110" fill="none" stroke="#2a9c9c" stroke-width="1.5" stroke-linejoin="round"/>
<path d="M443.3,115.3 C443.37,113.93 443.28,112.52 443.5,111.2 C443.72,109.92 443.98,108.54 444.6,107.5 C445.18,106.53 446.05,105.74 447,105.1 C448,104.42 449.25,104.05 450.5,103.6 C451.89,103.1 453.06,102.68 455,102.3 C458.37,101.64 464.38,101.31 469.1,100.8 C473.85,100.28 479.62,100.29 483.4,99.2 C486.1,98.42 488.08,97.26 490,96 C491.73,94.86 492.67,93.09 494.5,92.1 C496.62,90.95 499.6,90.43 502.2,89.9 C504.77,89.37 506.98,89.33 510,88.9 C514.19,88.3 520.01,87.41 525,86.5 C530.01,85.58 534.91,84.75 540,83.4 C545.43,81.96 552.13,80.06 556.6,78 C559.92,76.47 562.1,74.83 564.8,73 C567.6,71.1 570.4,69.07 573.1,66.8 C575.94,64.42 578.7,61.79 581.4,59 C584.24,56.07 587.35,52.1 589.7,49.6 C591.34,47.86 592.38,46.37 594,45.3 C595.56,44.27 597.51,43.15 599.2,43.2 C600.84,43.25 602.43,44.37 604,45.5 C605.95,46.9 607.77,49.67 609.7,51.4 C611.44,52.96 613.17,54.2 615,55.5 C616.84,56.81 618.79,58.18 620.7,59.2 C622.46,60.14 624.21,60.86 626,61.5 C627.75,62.12 630.43,61.76 631.3,63 C632.28,64.4 631.07,67.46 630.8,70 C630.48,73.04 630.07,76.82 629.4,80 C628.78,82.97 628.07,85.97 627,88.5 C626.05,90.74 624.99,92.76 623.5,94.5 C622,96.26 620.12,97.81 618,99 C615.68,100.3 612.61,101.2 610,101.8 C607.62,102.35 605.31,102.08 603,102.6 C600.64,103.13 598.17,103.66 596,105 C593.56,106.51 591.24,109.22 589.3,111.6 C587.42,113.9 586.14,116.53 584.5,119 C582.84,121.5 581.09,124.05 579.4,126.5 C577.76,128.88 576.23,131.38 574.5,133.5 C572.89,135.48 571.31,137.35 569.4,138.9 C567.48,140.45 565.24,141.88 563,142.8 C560.84,143.69 558.57,144.42 556.2,144.4 C553.59,144.37 550.71,143.2 548,142.3 C545.21,141.38 542.44,140.14 539.7,138.9 C536.93,137.64 534.25,136.17 531.5,134.8 C528.72,133.41 525.88,131.95 523.1,130.6 C520.38,129.28 517.78,127.77 515,126.8 C512.27,125.85 509.43,125.27 506.6,124.8 C503.77,124.33 500.82,124.13 498,124 C495.29,123.87 492.64,124.07 490,124 C487.41,123.93 484.71,124.06 482.3,123.6 C480.06,123.18 478.16,122.14 476,121.5 C473.76,120.84 471.56,120.32 469.1,119.7 C466.28,118.99 462.88,118.16 460,117.5 C457.41,116.91 455.01,116.25 452.6,115.9 C450.35,115.57 447.72,115.5 446,115.4 C444.9,115.34 444.2,115.33 443.3,115.3" fill="none" stroke="#2e2eff" stroke-width="1.5" stroke-linejoin="round"/>
<path d="M443.3,119.2 C443.33,117.3 443.21,115.3 443.4,113.5 C443.57,111.85 443.74,110.19 444.3,108.8 C444.81,107.52 445.58,106.34 446.5,105.4 C447.41,104.47 448.72,103.77 449.8,103.2 C450.74,102.71 451.25,102.43 452.6,102.1 C455.78,101.33 463.8,100.97 469.1,100.4 C474.04,99.87 480.03,99.78 483.4,98.8 C485.39,98.22 486.62,97.59 487.9,96.6 C489.14,95.64 489.9,94.12 491,93 C492.1,91.89 493.01,90.84 494.5,89.9 C496.49,88.64 499.58,87.35 502.2,86.6 C504.75,85.87 506.98,85.87 510,85.4 C514.19,84.74 520.01,83.95 525,83 C530.01,82.05 534.92,81.14 540,79.7 C545.44,78.16 552.16,76.19 556.6,73.9 C559.96,72.17 562.09,70.14 564.8,68.1 C567.59,66.01 570.4,63.91 573.1,61.5 C575.94,58.97 578.77,56.35 581.4,53.2 C584.33,49.68 587.23,44.71 589.7,41.2 C591.65,38.43 592.9,35.63 595,33.8 C596.87,32.16 599.49,30.47 601.4,30.4 C602.9,30.34 604.17,31.42 605.5,32.2 C606.94,33.05 608.32,34.23 609.7,35.4 C611.16,36.65 612.55,38.13 614,39.5 C615.48,40.9 616.73,42.32 618.5,43.7 C620.66,45.39 623.84,47.34 626.2,48.7 C628.1,49.8 630.56,49.83 631.5,51.4 C632.63,53.29 631.58,57.04 631.3,60 C630.99,63.22 630.18,66.67 629.6,70 C629.02,73.33 628.55,76.82 627.8,80 C627.1,82.97 626.41,85.92 625.3,88.5 C624.27,90.88 623.09,93.18 621.5,95 C619.97,96.75 618.12,98.19 616,99.3 C613.68,100.52 610.64,101.07 608,101.8 C605.47,102.5 602.67,102.9 600.5,103.6 C598.76,104.17 597.35,104.47 595.9,105.5 C594.14,106.75 592.53,108.85 591,111 C589.19,113.53 587.68,116.96 586,119.9 C584.34,122.8 582.68,125.71 581,128.5 C579.38,131.2 577.8,133.72 576.1,136.4 C574.31,139.22 572.53,142.44 570.5,145 C568.63,147.36 566.64,149.69 564.5,151.3 C562.61,152.72 560.52,153.83 558.5,154.4 C556.65,154.92 554.81,154.99 552.9,154.8 C550.82,154.59 548.63,153.81 546.5,153 C544.23,152.14 542.03,151 539.7,149.7 C537.05,148.23 534.27,146.17 531.5,144.5 C528.74,142.83 525.85,141.37 523.1,139.7 C520.35,138.04 517.81,135.88 515,134.5 C512.3,133.17 509.45,132.2 506.6,131.5 C503.78,130.81 500.82,130.58 498,130.3 C495.29,130.03 492.54,129.8 490,129.8 C487.69,129.8 485.66,130.16 483.4,130.2 C481,130.24 478.41,130.37 476,130 C473.61,129.63 471.14,128.85 469,128 C467.04,127.22 465.42,126.11 463.6,125.2 C461.76,124.28 459.88,123.24 458,122.5 C456.21,121.79 454.51,121.24 452.6,120.8 C450.53,120.32 447.71,120.12 446,119.8 C444.9,119.59 444.2,119.4 443.3,119.2" fill="none" stroke="#9b30ff" stroke-width="1.5" stroke-linejoin="round"/>
<rect x="451" y="25.1" width="38.7" height="44.9" fill="#fff" stroke="#a8a8a8" stroke-width="0.7"/>
<line x1="451.6" y1="29.5" x2="465.1" y2="29.5" stroke="#a09a3a" stroke-width="1.6"/>
<text x="466.9" y="31.66" font-size="6" font-weight="bold" textLength="21.3" lengthAdjust="spacingAndGlyphs" stroke="#000" stroke-width="0.3">0.1mV/s</text>
<line x1="451.6" y1="36.6" x2="465.1" y2="36.6" stroke="#ff2e2e" stroke-width="1.6"/>
<text x="466.9" y="38.76" font-size="6" font-weight="bold" textLength="21.3" lengthAdjust="spacingAndGlyphs" stroke="#000" stroke-width="0.3">0.2mV/s</text>
<line x1="451.6" y1="44" x2="465.1" y2="44" stroke="#2ef02e" stroke-width="1.6"/>
<text x="466.9" y="46.16" font-size="6" font-weight="bold" textLength="21.3" lengthAdjust="spacingAndGlyphs" stroke="#000" stroke-width="0.3">0.4mV/s</text>
<line x1="451.6" y1="51.2" x2="465.1" y2="51.2" stroke="#2a9c9c" stroke-width="1.6"/>
<text x="466.9" y="53.36" font-size="6" font-weight="bold" textLength="21.3" lengthAdjust="spacingAndGlyphs" stroke="#000" stroke-width="0.3">0.6mV/s</text>
<line x1="451.6" y1="58.5" x2="465.1" y2="58.5" stroke="#2e2eff" stroke-width="1.6"/>
<text x="466.9" y="60.66" font-size="6" font-weight="bold" textLength="21.3" lengthAdjust="spacingAndGlyphs" stroke="#000" stroke-width="0.3">0.8mV/s</text>
<line x1="451.6" y1="65.7" x2="465.1" y2="65.7" stroke="#9b30ff" stroke-width="1.6"/>
<text x="466.9" y="67.86" font-size="6" font-weight="bold" textLength="21.3" lengthAdjust="spacingAndGlyphs" stroke="#000" stroke-width="0.3">1.0mV/s</text>
<path d="M481.47,102 L475.2,105.3 L481.47,108.6" fill="none" stroke="#000" stroke-width="1.4"/>
<path d="M529.13,95 L535.4,98.3 L529.13,101.6" fill="none" stroke="#000" stroke-width="1.4"/>
<path d="M551.07,102 L544.8,105.3 L551.07,108.6" fill="none" stroke="#000" stroke-width="1.4"/>
<path d="M600.03,88.2 L606.3,91.5 L600.03,94.8" fill="none" stroke="#000" stroke-width="1.4"/>
<text x="603.6" y="24.2" font-size="6.4" text-anchor="middle" font-weight="bold" textLength="19.8" lengthAdjust="spacingAndGlyphs" stroke="#000" stroke-width="0.3">Peak 1</text>
<text x="556.2" y="167" font-size="6.4" text-anchor="middle" font-weight="bold" textLength="20" lengthAdjust="spacingAndGlyphs" stroke="#000" stroke-width="0.3">Peak 2</text>
<rect x="429" y="15.6" width="216.7" height="174" fill="none" stroke="#000" stroke-width="1.8"/>
<line x1="127" y1="408.7" x2="131" y2="408.7" stroke="#000" stroke-width="1.5"/>
<text x="125.6" y="410.87" font-size="8.8" text-anchor="end" font-weight="bold" stroke="#000" stroke-width="0.3">0</text>
<line x1="127" y1="385.43" x2="131" y2="385.43" stroke="#000" stroke-width="1.5"/>
<text x="125.6" y="387.6" font-size="8.8" text-anchor="end" font-weight="bold" stroke="#000" stroke-width="0.3">20</text>
<line x1="127" y1="362.16" x2="131" y2="362.16" stroke="#000" stroke-width="1.5"/>
<text x="125.6" y="364.32" font-size="8.8" text-anchor="end" font-weight="bold" stroke="#000" stroke-width="0.3">40</text>
<line x1="127" y1="338.88" x2="131" y2="338.88" stroke="#000" stroke-width="1.5"/>
<text x="125.6" y="341.05" font-size="8.8" text-anchor="end" font-weight="bold" stroke="#000" stroke-width="0.3">60</text>
<line x1="127" y1="315.61" x2="131" y2="315.61" stroke="#000" stroke-width="1.5"/>
<text x="125.6" y="317.78" font-size="8.8" text-anchor="end" font-weight="bold" stroke="#000" stroke-width="0.3">80</text>
<line x1="127" y1="292.34" x2="131" y2="292.34" stroke="#000" stroke-width="1.5"/>
<text x="125.6" y="294.51" font-size="8.8" text-anchor="end" font-weight="bold" stroke="#000" stroke-width="0.3">100</text>
<line x1="127" y1="269.07" x2="131" y2="269.07" stroke="#000" stroke-width="1.5"/>
<text x="125.6" y="271.24" font-size="8.8" text-anchor="end" font-weight="bold" stroke="#000" stroke-width="0.3">120</text>
<line x1="127" y1="245.8" x2="131" y2="245.8" stroke="#000" stroke-width="1.5"/>
<text x="125.6" y="247.96" font-size="8.8" text-anchor="end" font-weight="bold" stroke="#000" stroke-width="0.3">140</text>
<line x1="347" y1="408.7" x2="351" y2="408.7" stroke="#1a1aff" stroke-width="1.3"/>
<text x="353.3" y="411.57" font-size="8.8" font-weight="bold" fill="#1a1aff" stroke="#1a1aff" stroke-width="0.3">0</text>
<line x1="347" y1="373.78" x2="351" y2="373.78" stroke="#1a1aff" stroke-width="1.3"/>
<text x="353.3" y="376.65" font-size="8.8" font-weight="bold" fill="#1a1aff" stroke="#1a1aff" stroke-width="0.3">20</text>
<line x1="347" y1="338.86" x2="351" y2="338.86" stroke="#1a1aff" stroke-width="1.3"/>
<text x="353.3" y="341.73" font-size="8.8" font-weight="bold" fill="#1a1aff" stroke="#1a1aff" stroke-width="0.3">40</text>
<line x1="347" y1="303.94" x2="351" y2="303.94" stroke="#1a1aff" stroke-width="1.3"/>
<text x="353.3" y="306.81" font-size="8.8" font-weight="bold" fill="#1a1aff" stroke="#1a1aff" stroke-width="0.3">60</text>
<line x1="347" y1="269.02" x2="351" y2="269.02" stroke="#1a1aff" stroke-width="1.3"/>
<text x="353.3" y="271.89" font-size="8.8" font-weight="bold" fill="#1a1aff" stroke="#1a1aff" stroke-width="0.3">80</text>
<line x1="347" y1="234.1" x2="351" y2="234.1" stroke="#1a1aff" stroke-width="1.3"/>
<text x="353.3" y="236.97" font-size="8.8" font-weight="bold" fill="#1a1aff" stroke="#1a1aff" stroke-width="0.3">100</text>
<line x1="130.9" y1="408.7" x2="130.9" y2="412.2" stroke="#000" stroke-width="1.5"/>
<text x="130.9" y="421.8" font-size="8.8" text-anchor="middle" font-weight="bold" stroke="#000" stroke-width="0.3">0</text>
<line x1="151.5" y1="408.7" x2="151.5" y2="412.2" stroke="#000" stroke-width="1.5"/>
<text x="151.5" y="421.8" font-size="8.8" text-anchor="middle" font-weight="bold" stroke="#000" stroke-width="0.3">10</text>
<line x1="172.1" y1="408.7" x2="172.1" y2="412.2" stroke="#000" stroke-width="1.5"/>
<text x="172.1" y="421.8" font-size="8.8" text-anchor="middle" font-weight="bold" stroke="#000" stroke-width="0.3">20</text>
<line x1="192.7" y1="408.7" x2="192.7" y2="412.2" stroke="#000" stroke-width="1.5"/>
<text x="192.7" y="421.8" font-size="8.8" text-anchor="middle" font-weight="bold" stroke="#000" stroke-width="0.3">30</text>
<line x1="213.3" y1="408.7" x2="213.3" y2="412.2" stroke="#000" stroke-width="1.5"/>
<text x="213.3" y="421.8" font-size="8.8" text-anchor="middle" font-weight="bold" stroke="#000" stroke-width="0.3">40</text>
<line x1="233.9" y1="408.7" x2="233.9" y2="412.2" stroke="#000" stroke-width="1.5"/>
<text x="233.9" y="421.8" font-size="8.8" text-anchor="middle" font-weight="bold" stroke="#000" stroke-width="0.3">50</text>
<line x1="254.5" y1="408.7" x2="254.5" y2="412.2" stroke="#000" stroke-width="1.5"/>
<text x="254.5" y="421.8" font-size="8.8" text-anchor="middle" font-weight="bold" stroke="#000" stroke-width="0.3">60</text>
<line x1="275.1" y1="408.7" x2="275.1" y2="412.2" stroke="#000" stroke-width="1.5"/>
<text x="275.1" y="421.8" font-size="8.8" text-anchor="middle" font-weight="bold" stroke="#000" stroke-width="0.3">70</text>
<line x1="295.7" y1="408.7" x2="295.7" y2="412.2" stroke="#000" stroke-width="1.5"/>
<text x="295.7" y="421.8" font-size="8.8" text-anchor="middle" font-weight="bold" stroke="#000" stroke-width="0.3">80</text>
<line x1="316.3" y1="408.7" x2="316.3" y2="412.2" stroke="#000" stroke-width="1.5"/>
<text x="316.3" y="421.8" font-size="8.8" text-anchor="middle" font-weight="bold" stroke="#000" stroke-width="0.3">90</text>
<line x1="336.9" y1="408.7" x2="336.9" y2="412.2" stroke="#000" stroke-width="1.5"/>
<text x="336.9" y="421.8" font-size="8.8" text-anchor="middle" font-weight="bold" stroke="#000" stroke-width="0.3">100</text>
<text x="238.7" y="438.7" font-size="10.6" text-anchor="middle" font-weight="bold" textLength="65.3" lengthAdjust="spacingAndGlyphs" stroke="#000" stroke-width="0.3">No. of cycles</text>
<text x="104.4" y="321.7" font-size="10.6" font-weight="bold" text-anchor="middle" fill="#000" textLength="140" lengthAdjust="spacingAndGlyphs" transform="rotate(-90 104.4 321.7)">Discharge capacity (mAh/g)</text>
<text x="377.2" y="321.4" font-size="10.6" font-weight="bold" text-anchor="middle" fill="#000" textLength="40.2" lengthAdjust="spacingAndGlyphs" transform="rotate(-90 377.2 321.4)">C.E. (%)</text>
<polyline points="132.96,232 135.02,296.76 137.08,322.59 139.14,333.07 141.2,338.88 143.26,343.54 145.32,345.87 147.38,348.77 149.44,351.1 151.5,352.15 153.56,354.01 155.62,357.85 157.68,363.32 159.74,363.9 161.8,364.11 163.86,364.32 165.92,364.53 167.98,364.74 170.04,364.95 172.1,365.16 174.16,365.37 176.22,365.58 178.28,365.79 180.34,366 182.4,363.44 184.46,363.51 186.52,363.59 188.58,363.67 190.64,363.74 192.7,363.82 194.76,363.9 196.82,363.97 198.88,364.05 200.94,364.12 203,364.2 205.06,364.28 207.12,364.35 209.18,364.43 211.24,364.51 213.3,364.58 215.36,364.66 217.42,364.74 219.48,364.81 221.54,364.89 223.6,364.97 225.66,365.04 227.72,365.12 229.78,365.2 231.84,365.27 233.9,365.35 235.96,365.43 238.02,365.5 240.08,365.58 242.14,365.66 244.2,365.73 246.26,365.81 248.32,365.89 250.38,365.96 252.44,366.04 254.5,366.12 256.56,366.19 258.62,366.27 260.68,366.34 262.74,366.42 264.8,366.5 266.86,366.57 268.92,366.65 270.98,366.73 273.04,366.8 275.1,366.88 277.16,366.96 279.22,367.03 281.28,367.11 283.34,367.19 285.4,367.26 287.46,367.34 289.52,367.42 291.58,367.49 293.64,367.57 295.7,367.65 297.76,367.72 299.82,367.8 301.88,367.88 303.94,367.95 306,368.03 308.06,368.11 310.12,368.18 312.18,368.26 314.24,368.34 316.3,368.41 318.36,368.49 320.42,368.56 322.48,368.64 324.54,368.72 326.6,368.79 328.66,368.87 330.72,368.95 332.78,369.02 334.84,369.1 336.9,369.18 338.96,369.25" fill="none" stroke="#b8b8b8" stroke-width="1"/>
<circle cx="135.02" cy="296.76" r="2.6" fill="#ff5a5a" stroke="#ff3535" stroke-width="0.8"/>
<circle cx="137.08" cy="322.59" r="2.6" fill="#ff5a5a" stroke="#ff3535" stroke-width="0.8"/>
<circle cx="139.14" cy="333.07" r="2.6" fill="#ff5a5a" stroke="#ff3535" stroke-width="0.8"/>
<circle cx="141.2" cy="338.88" r="2.6" fill="#ff5a5a" stroke="#ff3535" stroke-width="0.8"/>
<circle cx="143.26" cy="343.54" r="2.6" fill="#ff5a5a" stroke="#ff3535" stroke-width="0.8"/>
<circle cx="145.32" cy="345.87" r="2.6" fill="#ff5a5a" stroke="#ff3535" stroke-width="0.8"/>
<circle cx="147.38" cy="348.77" r="2.6" fill="#ff5a5a" stroke="#ff3535" stroke-width="0.8"/>
<circle cx="149.44" cy="351.1" r="2.6" fill="#ff5a5a" stroke="#ff3535" stroke-width="0.8"/>
<circle cx="151.5" cy="352.15" r="2.6" fill="#ff5a5a" stroke="#ff3535" stroke-width="0.8"/>
<circle cx="153.56" cy="354.01" r="2.6" fill="#ff5a5a" stroke="#ff3535" stroke-width="0.8"/>
<circle cx="155.62" cy="357.85" r="2.6" fill="#ff5a5a" stroke="#ff3535" stroke-width="0.8"/>
<circle cx="157.68" cy="363.32" r="2.6" fill="#ff5a5a" stroke="#ff3535" stroke-width="0.8"/>
<circle cx="159.74" cy="363.9" r="2.6" fill="#ff5a5a" stroke="#ff3535" stroke-width="0.8"/>
<circle cx="161.8" cy="364.11" r="2.6" fill="#ff5a5a" stroke="#ff3535" stroke-width="0.8"/>
<circle cx="163.86" cy="364.32" r="2.6" fill="#ff5a5a" stroke="#ff3535" stroke-width="0.8"/>
<circle cx="165.92" cy="364.53" r="2.6" fill="#ff5a5a" stroke="#ff3535" stroke-width="0.8"/>
<circle cx="167.98" cy="364.74" r="2.6" fill="#ff5a5a" stroke="#ff3535" stroke-width="0.8"/>
<circle cx="170.04" cy="364.95" r="2.6" fill="#ff5a5a" stroke="#ff3535" stroke-width="0.8"/>
<circle cx="172.1" cy="365.16" r="2.6" fill="#ff5a5a" stroke="#ff3535" stroke-width="0.8"/>
<circle cx="174.16" cy="365.37" r="2.6" fill="#ff5a5a" stroke="#ff3535" stroke-width="0.8"/>
<circle cx="176.22" cy="365.58" r="2.6" fill="#ff5a5a" stroke="#ff3535" stroke-width="0.8"/>
<circle cx="178.28" cy="365.79" r="2.6" fill="#ff5a5a" stroke="#ff3535" stroke-width="0.8"/>
<circle cx="180.34" cy="366" r="2.6" fill="#ff5a5a" stroke="#ff3535" stroke-width="0.8"/>
<circle cx="182.4" cy="363.44" r="2.6" fill="#ff5a5a" stroke="#ff3535" stroke-width="0.8"/>
<circle cx="184.46" cy="363.51" r="2.6" fill="#ff5a5a" stroke="#ff3535" stroke-width="0.8"/>
<circle cx="186.52" cy="363.59" r="2.6" fill="#ff5a5a" stroke="#ff3535" stroke-width="0.8"/>
<circle cx="188.58" cy="363.67" r="2.6" fill="#ff5a5a" stroke="#ff3535" stroke-width="0.8"/>
<circle cx="190.64" cy="363.74" r="2.6" fill="#ff5a5a" stroke="#ff3535" stroke-width="0.8"/>
<circle cx="192.7" cy="363.82" r="2.6" fill="#ff5a5a" stroke="#ff3535" stroke-width="0.8"/>
<circle cx="194.76" cy="363.9" r="2.6" fill="#ff5a5a" stroke="#ff3535" stroke-width="0.8"/>
<circle cx="196.82" cy="363.97" r="2.6" fill="#ff5a5a" stroke="#ff3535" stroke-width="0.8"/>
<circle cx="198.88" cy="364.05" r="2.6" fill="#ff5a5a" stroke="#ff3535" stroke-width="0.8"/>
<circle cx="200.94" cy="364.12" r="2.6" fill="#ff5a5a" stroke="#ff3535" stroke-width="0.8"/>
<circle cx="203" cy="364.2" r="2.6" fill="#ff5a5a" stroke="#ff3535" stroke-width="0.8"/>
<circle cx="205.06" cy="364.28" r="2.6" fill="#ff5a5a" stroke="#ff3535" stroke-width="0.8"/>
<circle cx="207.12" cy="364.35" r="2.6" fill="#ff5a5a" stroke="#ff3535" stroke-width="0.8"/>
<circle cx="209.18" cy="364.43" r="2.6" fill="#ff5a5a" stroke="#ff3535" stroke-width="0.8"/>
<circle cx="211.24" cy="364.51" r="2.6" fill="#ff5a5a" stroke="#ff3535" stroke-width="0.8"/>
<circle cx="213.3" cy="364.58" r="2.6" fill="#ff5a5a" stroke="#ff3535" stroke-width="0.8"/>
<circle cx="215.36" cy="364.66" r="2.6" fill="#ff5a5a" stroke="#ff3535" stroke-width="0.8"/>
<circle cx="217.42" cy="364.74" r="2.6" fill="#ff5a5a" stroke="#ff3535" stroke-width="0.8"/>
<circle cx="219.48" cy="364.81" r="2.6" fill="#ff5a5a" stroke="#ff3535" stroke-width="0.8"/>
<circle cx="221.54" cy="364.89" r="2.6" fill="#ff5a5a" stroke="#ff3535" stroke-width="0.8"/>
<circle cx="223.6" cy="364.97" r="2.6" fill="#ff5a5a" stroke="#ff3535" stroke-width="0.8"/>
<circle cx="225.66" cy="365.04" r="2.6" fill="#ff5a5a" stroke="#ff3535" stroke-width="0.8"/>
<circle cx="227.72" cy="365.12" r="2.6" fill="#ff5a5a" stroke="#ff3535" stroke-width="0.8"/>
<circle cx="229.78" cy="365.2" r="2.6" fill="#ff5a5a" stroke="#ff3535" stroke-width="0.8"/>
<circle cx="231.84" cy="365.27" r="2.6" fill="#ff5a5a" stroke="#ff3535" stroke-width="0.8"/>
<circle cx="233.9" cy="365.35" r="2.6" fill="#ff5a5a" stroke="#ff3535" stroke-width="0.8"/>
<circle cx="235.96" cy="365.43" r="2.6" fill="#ff5a5a" stroke="#ff3535" stroke-width="0.8"/>
<circle cx="238.02" cy="365.5" r="2.6" fill="#ff5a5a" stroke="#ff3535" stroke-width="0.8"/>
<circle cx="240.08" cy="365.58" r="2.6" fill="#ff5a5a" stroke="#ff3535" stroke-width="0.8"/>
<circle cx="242.14" cy="365.66" r="2.6" fill="#ff5a5a" stroke="#ff3535" stroke-width="0.8"/>
<circle cx="244.2" cy="365.73" r="2.6" fill="#ff5a5a" stroke="#ff3535" stroke-width="0.8"/>
<circle cx="246.26" cy="365.81" r="2.6" fill="#ff5a5a" stroke="#ff3535" stroke-width="0.8"/>
<circle cx="248.32" cy="365.89" r="2.6" fill="#ff5a5a" stroke="#ff3535" stroke-width="0.8"/>
<circle cx="250.38" cy="365.96" r="2.6" fill="#ff5a5a" stroke="#ff3535" stroke-width="0.8"/>
<circle cx="252.44" cy="366.04" r="2.6" fill="#ff5a5a" stroke="#ff3535" stroke-width="0.8"/>
<circle cx="254.5" cy="366.12" r="2.6" fill="#ff5a5a" stroke="#ff3535" stroke-width="0.8"/>
<circle cx="256.56" cy="366.19" r="2.6" fill="#ff5a5a" stroke="#ff3535" stroke-width="0.8"/>
<circle cx="258.62" cy="366.27" r="2.6" fill="#ff5a5a" stroke="#ff3535" stroke-width="0.8"/>
<circle cx="260.68" cy="366.34" r="2.6" fill="#ff5a5a" stroke="#ff3535" stroke-width="0.8"/>
<circle cx="262.74" cy="366.42" r="2.6" fill="#ff5a5a" stroke="#ff3535" stroke-width="0.8"/>
<circle cx="264.8" cy="366.5" r="2.6" fill="#ff5a5a" stroke="#ff3535" stroke-width="0.8"/>
<circle cx="266.86" cy="366.57" r="2.6" fill="#ff5a5a" stroke="#ff3535" stroke-width="0.8"/>
<circle cx="268.92" cy="366.65" r="2.6" fill="#ff5a5a" stroke="#ff3535" stroke-width="0.8"/>
<circle cx="270.98" cy="366.73" r="2.6" fill="#ff5a5a" stroke="#ff3535" stroke-width="0.8"/>
<circle cx="273.04" cy="366.8" r="2.6" fill="#ff5a5a" stroke="#ff3535" stroke-width="0.8"/>
<circle cx="275.1" cy="366.88" r="2.6" fill="#ff5a5a" stroke="#ff3535" stroke-width="0.8"/>
<circle cx="277.16" cy="366.96" r="2.6" fill="#ff5a5a" stroke="#ff3535" stroke-width="0.8"/>
<circle cx="279.22" cy="367.03" r="2.6" fill="#ff5a5a" stroke="#ff3535" stroke-width="0.8"/>
<circle cx="281.28" cy="367.11" r="2.6" fill="#ff5a5a" stroke="#ff3535" stroke-width="0.8"/>
<circle cx="283.34" cy="367.19" r="2.6" fill="#ff5a5a" stroke="#ff3535" stroke-width="0.8"/>
<circle cx="285.4" cy="367.26" r="2.6" fill="#ff5a5a" stroke="#ff3535" stroke-width="0.8"/>
<circle cx="287.46" cy="367.34" r="2.6" fill="#ff5a5a" stroke="#ff3535" stroke-width="0.8"/>
<circle cx="289.52" cy="367.42" r="2.6" fill="#ff5a5a" stroke="#ff3535" stroke-width="0.8"/>
<circle cx="291.58" cy="367.49" r="2.6" fill="#ff5a5a" stroke="#ff3535" stroke-width="0.8"/>
<circle cx="293.64" cy="367.57" r="2.6" fill="#ff5a5a" stroke="#ff3535" stroke-width="0.8"/>
<circle cx="295.7" cy="367.65" r="2.6" fill="#ff5a5a" stroke="#ff3535" stroke-width="0.8"/>
<circle cx="297.76" cy="367.72" r="2.6" fill="#ff5a5a" stroke="#ff3535" stroke-width="0.8"/>
<circle cx="299.82" cy="367.8" r="2.6" fill="#ff5a5a" stroke="#ff3535" stroke-width="0.8"/>
<circle cx="301.88" cy="367.88" r="2.6" fill="#ff5a5a" stroke="#ff3535" stroke-width="0.8"/>
<circle cx="303.94" cy="367.95" r="2.6" fill="#ff5a5a" stroke="#ff3535" stroke-width="0.8"/>
<circle cx="306" cy="368.03" r="2.6" fill="#ff5a5a" stroke="#ff3535" stroke-width="0.8"/>
<circle cx="308.06" cy="368.11" r="2.6" fill="#ff5a5a" stroke="#ff3535" stroke-width="0.8"/>
<circle cx="310.12" cy="368.18" r="2.6" fill="#ff5a5a" stroke="#ff3535" stroke-width="0.8"/>
<circle cx="312.18" cy="368.26" r="2.6" fill="#ff5a5a" stroke="#ff3535" stroke-width="0.8"/>
<circle cx="314.24" cy="368.34" r="2.6" fill="#ff5a5a" stroke="#ff3535" stroke-width="0.8"/>
<circle cx="316.3" cy="368.41" r="2.6" fill="#ff5a5a" stroke="#ff3535" stroke-width="0.8"/>
<circle cx="318.36" cy="368.49" r="2.6" fill="#ff5a5a" stroke="#ff3535" stroke-width="0.8"/>
<circle cx="320.42" cy="368.56" r="2.6" fill="#ff5a5a" stroke="#ff3535" stroke-width="0.8"/>
<circle cx="322.48" cy="368.64" r="2.6" fill="#ff5a5a" stroke="#ff3535" stroke-width="0.8"/>
<circle cx="324.54" cy="368.72" r="2.6" fill="#ff5a5a" stroke="#ff3535" stroke-width="0.8"/>
<circle cx="326.6" cy="368.79" r="2.6" fill="#ff5a5a" stroke="#ff3535" stroke-width="0.8"/>
<circle cx="328.66" cy="368.87" r="2.6" fill="#ff5a5a" stroke="#ff3535" stroke-width="0.8"/>
<circle cx="330.72" cy="368.95" r="2.6" fill="#ff5a5a" stroke="#ff3535" stroke-width="0.8"/>
<circle cx="332.78" cy="369.02" r="2.6" fill="#ff5a5a" stroke="#ff3535" stroke-width="0.8"/>
<circle cx="334.84" cy="369.1" r="2.6" fill="#ff5a5a" stroke="#ff3535" stroke-width="0.8"/>
<circle cx="336.9" cy="369.18" r="2.6" fill="#ff5a5a" stroke="#ff3535" stroke-width="0.8"/>
<circle cx="338.96" cy="369.25" r="2.6" fill="#ff5a5a" stroke="#ff3535" stroke-width="0.8"/>
<polyline points="132.96,234.45 135.02,234.97 137.08,247.02 139.14,247.02 141.2,247.02 143.26,247.02 145.32,247.02 147.38,247.02 149.44,247.02 151.5,247.02 153.56,247.02 155.62,247.02 157.68,247.02 159.74,247.02 161.8,247.02 163.86,250.16 165.92,254 167.98,256.45 170.04,257.59 172.1,257.52 174.16,257.46 176.22,257.4 178.28,257.34 180.34,257.29 182.4,257.24 184.46,257.19 186.52,257.15 188.58,257.11 190.64,257.07 192.7,257.04 194.76,257.02 196.82,257 198.88,256.99 200.94,256.98 203,256.97 205.06,256.97 207.12,256.98 209.18,256.99 211.24,257.01 213.3,257.03 215.36,257.06 217.42,257.09 219.48,257.13 221.54,257.17 223.6,257.22 225.66,257.27 227.72,257.32 229.78,257.38 231.84,257.44 233.9,257.5 235.96,257.56 238.02,257.63 240.08,257.7 242.14,257.76 244.2,257.83 246.26,257.9 248.32,257.97 250.38,258.04 252.44,258.1 254.5,258.17 256.56,258.23 258.62,258.29 260.68,258.35 262.74,258.4 264.8,258.45 266.86,258.5 268.92,258.54 270.98,258.58 273.04,258.62 275.1,258.65 277.16,258.67 279.22,258.69 281.28,258.71 283.34,258.71 285.4,258.72 287.46,258.72 289.52,258.71 291.58,258.7 293.64,258.68 295.7,258.66 297.76,258.63 299.82,258.6 301.88,258.56 303.94,258.52 306,258.47 308.06,258.42 310.12,258.37 312.18,258.31 314.24,258.25 316.3,258.19 318.36,258.13 320.42,258.06 322.48,257.99 324.54,257.93 326.6,257.86 328.66,257.79 330.72,257.72 332.78,257.65 334.84,257.59 336.9,257.52 338.96,257.46" fill="none" stroke="#4d4dff" stroke-width="0.8"/>
<rect x="130.66" y="232.05" width="4.6" height="4.8" fill="#0a0aff"/>
<rect x="132.72" y="232.57" width="4.6" height="4.8" fill="#0a0aff"/>
<rect x="134.78" y="244.62" width="4.6" height="4.8" fill="#0a0aff"/>
<rect x="136.84" y="244.62" width="4.6" height="4.8" fill="#0a0aff"/>
<rect x="138.9" y="244.62" width="4.6" height="4.8" fill="#0a0aff"/>
<rect x="140.96" y="244.62" width="4.6" height="4.8" fill="#0a0aff"/>
<rect x="143.02" y="244.62" width="4.6" height="4.8" fill="#0a0aff"/>
<rect x="145.08" y="244.62" width="4.6" height="4.8" fill="#0a0aff"/>
<rect x="147.14" y="244.62" width="4.6" height="4.8" fill="#0a0aff"/>
<rect x="149.2" y="244.62" width="4.6" height="4.8" fill="#0a0aff"/>
<rect x="151.26" y="244.62" width="4.6" height="4.8" fill="#0a0aff"/>
<rect x="153.32" y="244.62" width="4.6" height="4.8" fill="#0a0aff"/>
<rect x="155.38" y="244.62" width="4.6" height="4.8" fill="#0a0aff"/>
<rect x="157.44" y="244.62" width="4.6" height="4.8" fill="#0a0aff"/>
<rect x="159.5" y="244.62" width="4.6" height="4.8" fill="#0a0aff"/>
<rect x="161.56" y="247.76" width="4.6" height="4.8" fill="#0a0aff"/>
<rect x="163.62" y="251.6" width="4.6" height="4.8" fill="#0a0aff"/>
<rect x="165.68" y="254.05" width="4.6" height="4.8" fill="#0a0aff"/>
<rect x="167.74" y="255.19" width="4.6" height="4.8" fill="#0a0aff"/>
<rect x="169.8" y="255.12" width="4.6" height="4.8" fill="#0a0aff"/>
<rect x="171.86" y="255.06" width="4.6" height="4.8" fill="#0a0aff"/>
<rect x="173.92" y="255" width="4.6" height="4.8" fill="#0a0aff"/>
<rect x="175.98" y="254.94" width="4.6" height="4.8" fill="#0a0aff"/>
<rect x="178.04" y="254.89" width="4.6" height="4.8" fill="#0a0aff"/>
<rect x="180.1" y="254.84" width="4.6" height="4.8" fill="#0a0aff"/>
<rect x="182.16" y="254.79" width="4.6" height="4.8" fill="#0a0aff"/>
<rect x="184.22" y="254.75" width="4.6" height="4.8" fill="#0a0aff"/>
<rect x="186.28" y="254.71" width="4.6" height="4.8" fill="#0a0aff"/>
<rect x="188.34" y="254.67" width="4.6" height="4.8" fill="#0a0aff"/>
<rect x="190.4" y="254.64" width="4.6" height="4.8" fill="#0a0aff"/>
<rect x="192.46" y="254.62" width="4.6" height="4.8" fill="#0a0aff"/>
<rect x="194.52" y="254.6" width="4.6" height="4.8" fill="#0a0aff"/>
<rect x="196.58" y="254.59" width="4.6" height="4.8" fill="#0a0aff"/>
<rect x="198.64" y="254.58" width="4.6" height="4.8" fill="#0a0aff"/>
<rect x="200.7" y="254.57" width="4.6" height="4.8" fill="#0a0aff"/>
<rect x="202.76" y="254.57" width="4.6" height="4.8" fill="#0a0aff"/>
<rect x="204.82" y="254.58" width="4.6" height="4.8" fill="#0a0aff"/>
<rect x="206.88" y="254.59" width="4.6" height="4.8" fill="#0a0aff"/>
<rect x="208.94" y="254.61" width="4.6" height="4.8" fill="#0a0aff"/>
<rect x="211" y="254.63" width="4.6" height="4.8" fill="#0a0aff"/>
<rect x="213.06" y="254.66" width="4.6" height="4.8" fill="#0a0aff"/>
<rect x="215.12" y="254.69" width="4.6" height="4.8" fill="#0a0aff"/>
<rect x="217.18" y="254.73" width="4.6" height="4.8" fill="#0a0aff"/>
<rect x="219.24" y="254.77" width="4.6" height="4.8" fill="#0a0aff"/>
<rect x="221.3" y="254.82" width="4.6" height="4.8" fill="#0a0aff"/>
<rect x="223.36" y="254.87" width="4.6" height="4.8" fill="#0a0aff"/>
<rect x="225.42" y="254.92" width="4.6" height="4.8" fill="#0a0aff"/>
<rect x="227.48" y="254.98" width="4.6" height="4.8" fill="#0a0aff"/>
<rect x="229.54" y="255.04" width="4.6" height="4.8" fill="#0a0aff"/>
<rect x="231.6" y="255.1" width="4.6" height="4.8" fill="#0a0aff"/>
<rect x="233.66" y="255.16" width="4.6" height="4.8" fill="#0a0aff"/>
<rect x="235.72" y="255.23" width="4.6" height="4.8" fill="#0a0aff"/>
<rect x="237.78" y="255.3" width="4.6" height="4.8" fill="#0a0aff"/>
<rect x="239.84" y="255.36" width="4.6" height="4.8" fill="#0a0aff"/>
<rect x="241.9" y="255.43" width="4.6" height="4.8" fill="#0a0aff"/>
<rect x="243.96" y="255.5" width="4.6" height="4.8" fill="#0a0aff"/>
<rect x="246.02" y="255.57" width="4.6" height="4.8" fill="#0a0aff"/>
<rect x="248.08" y="255.64" width="4.6" height="4.8" fill="#0a0aff"/>
<rect x="250.14" y="255.7" width="4.6" height="4.8" fill="#0a0aff"/>
<rect x="252.2" y="255.77" width="4.6" height="4.8" fill="#0a0aff"/>
<rect x="254.26" y="255.83" width="4.6" height="4.8" fill="#0a0aff"/>
<rect x="256.32" y="255.89" width="4.6" height="4.8" fill="#0a0aff"/>
<rect x="258.38" y="255.95" width="4.6" height="4.8" fill="#0a0aff"/>
<rect x="260.44" y="256" width="4.6" height="4.8" fill="#0a0aff"/>
<rect x="262.5" y="256.05" width="4.6" height="4.8" fill="#0a0aff"/>
<rect x="264.56" y="256.1" width="4.6" height="4.8" fill="#0a0aff"/>
<rect x="266.62" y="256.14" width="4.6" height="4.8" fill="#0a0aff"/>
<rect x="268.68" y="256.18" width="4.6" height="4.8" fill="#0a0aff"/>
<rect x="270.74" y="256.22" width="4.6" height="4.8" fill="#0a0aff"/>
<rect x="272.8" y="256.25" width="4.6" height="4.8" fill="#0a0aff"/>
<rect x="274.86" y="256.27" width="4.6" height="4.8" fill="#0a0aff"/>
<rect x="276.92" y="256.29" width="4.6" height="4.8" fill="#0a0aff"/>
<rect x="278.98" y="256.31" width="4.6" height="4.8" fill="#0a0aff"/>
<rect x="281.04" y="256.31" width="4.6" height="4.8" fill="#0a0aff"/>
<rect x="283.1" y="256.32" width="4.6" height="4.8" fill="#0a0aff"/>
<rect x="285.16" y="256.32" width="4.6" height="4.8" fill="#0a0aff"/>
<rect x="287.22" y="256.31" width="4.6" height="4.8" fill="#0a0aff"/>
<rect x="289.28" y="256.3" width="4.6" height="4.8" fill="#0a0aff"/>
<rect x="291.34" y="256.28" width="4.6" height="4.8" fill="#0a0aff"/>
<rect x="293.4" y="256.26" width="4.6" height="4.8" fill="#0a0aff"/>
<rect x="295.46" y="256.23" width="4.6" height="4.8" fill="#0a0aff"/>
<rect x="297.52" y="256.2" width="4.6" height="4.8" fill="#0a0aff"/>
<rect x="299.58" y="256.16" width="4.6" height="4.8" fill="#0a0aff"/>
<rect x="301.64" y="256.12" width="4.6" height="4.8" fill="#0a0aff"/>
<rect x="303.7" y="256.07" width="4.6" height="4.8" fill="#0a0aff"/>
<rect x="305.76" y="256.02" width="4.6" height="4.8" fill="#0a0aff"/>
<rect x="307.82" y="255.97" width="4.6" height="4.8" fill="#0a0aff"/>
<rect x="309.88" y="255.91" width="4.6" height="4.8" fill="#0a0aff"/>
<rect x="311.94" y="255.85" width="4.6" height="4.8" fill="#0a0aff"/>
<rect x="314" y="255.79" width="4.6" height="4.8" fill="#0a0aff"/>
<rect x="316.06" y="255.73" width="4.6" height="4.8" fill="#0a0aff"/>
<rect x="318.12" y="255.66" width="4.6" height="4.8" fill="#0a0aff"/>
<rect x="320.18" y="255.59" width="4.6" height="4.8" fill="#0a0aff"/>
<rect x="322.24" y="255.53" width="4.6" height="4.8" fill="#0a0aff"/>
<rect x="324.3" y="255.46" width="4.6" height="4.8" fill="#0a0aff"/>
<rect x="326.36" y="255.39" width="4.6" height="4.8" fill="#0a0aff"/>
<rect x="328.42" y="255.32" width="4.6" height="4.8" fill="#0a0aff"/>
<rect x="330.48" y="255.25" width="4.6" height="4.8" fill="#0a0aff"/>
<rect x="332.54" y="255.19" width="4.6" height="4.8" fill="#0a0aff"/>
<rect x="334.6" y="255.12" width="4.6" height="4.8" fill="#0a0aff"/>
<rect x="336.66" y="255.06" width="4.6" height="4.8" fill="#0a0aff"/>
<line x1="131" y1="234.1" x2="131" y2="408.7" stroke="#000" stroke-width="1.8"/>
<line x1="130.1" y1="408.7" x2="347.8" y2="408.7" stroke="#000" stroke-width="1.8"/>
<line x1="130.1" y1="234.1" x2="347.9" y2="234.1" stroke="#1a1aff" stroke-width="2"/>
<line x1="347" y1="234.1" x2="347" y2="409.6" stroke="#1a1aff" stroke-width="1.8"/>
<line x1="426.4" y1="405.5" x2="430.4" y2="405.5" stroke="#000" stroke-width="1.5"/>
<text x="423.8" y="408.2" font-size="8.6" text-anchor="end" font-weight="bold" stroke="#000" stroke-width="0.3">0</text>
<line x1="426.4" y1="362.1" x2="430.4" y2="362.1" stroke="#000" stroke-width="1.5"/>
<text x="423.8" y="364.8" font-size="8.6" text-anchor="end" font-weight="bold" stroke="#000" stroke-width="0.3">50</text>
<line x1="426.4" y1="318.7" x2="430.4" y2="318.7" stroke="#000" stroke-width="1.5"/>
<text x="423.8" y="321.4" font-size="8.6" text-anchor="end" font-weight="bold" stroke="#000" stroke-width="0.3">100</text>
<line x1="426.4" y1="275.3" x2="430.4" y2="275.3" stroke="#000" stroke-width="1.5"/>
<text x="423.8" y="278" font-size="8.6" text-anchor="end" font-weight="bold" stroke="#000" stroke-width="0.3">150</text>
<line x1="426.4" y1="231.9" x2="430.4" y2="231.9" stroke="#000" stroke-width="1.5"/>
<text x="423.8" y="234.6" font-size="8.6" text-anchor="end" font-weight="bold" stroke="#000" stroke-width="0.3">200</text>
<line x1="644.8" y1="405.5" x2="648.8" y2="405.5" stroke="#1a1aff" stroke-width="1.3"/>
<text x="650.2" y="408.3" font-size="8.6" font-weight="bold" fill="#1a1aff" stroke="#1a1aff" stroke-width="0.3">0</text>
<line x1="644.8" y1="370.88" x2="648.8" y2="370.88" stroke="#1a1aff" stroke-width="1.3"/>
<text x="650.2" y="373.68" font-size="8.6" font-weight="bold" fill="#1a1aff" stroke="#1a1aff" stroke-width="0.3">20</text>
<line x1="644.8" y1="336.26" x2="648.8" y2="336.26" stroke="#1a1aff" stroke-width="1.3"/>
<text x="650.2" y="339.06" font-size="8.6" font-weight="bold" fill="#1a1aff" stroke="#1a1aff" stroke-width="0.3">40</text>
<line x1="644.8" y1="301.64" x2="648.8" y2="301.64" stroke="#1a1aff" stroke-width="1.3"/>
<text x="650.2" y="304.44" font-size="8.6" font-weight="bold" fill="#1a1aff" stroke="#1a1aff" stroke-width="0.3">60</text>
<line x1="644.8" y1="267.02" x2="648.8" y2="267.02" stroke="#1a1aff" stroke-width="1.3"/>
<text x="650.2" y="269.82" font-size="8.6" font-weight="bold" fill="#1a1aff" stroke="#1a1aff" stroke-width="0.3">80</text>
<line x1="644.8" y1="232.4" x2="648.8" y2="232.4" stroke="#1a1aff" stroke-width="1.3"/>
<text x="650.2" y="235.2" font-size="8.6" font-weight="bold" fill="#1a1aff" stroke="#1a1aff" stroke-width="0.3">100</text>
<line x1="430.3" y1="405.5" x2="430.3" y2="409" stroke="#000" stroke-width="1.5"/>
<text x="430.3" y="418" font-size="8.6" text-anchor="middle" font-weight="bold" stroke="#000" stroke-width="0.3">0</text>
<line x1="471.76" y1="405.5" x2="471.76" y2="409" stroke="#000" stroke-width="1.5"/>
<text x="471.76" y="418" font-size="8.6" text-anchor="middle" font-weight="bold" stroke="#000" stroke-width="0.3">20</text>
<line x1="513.22" y1="405.5" x2="513.22" y2="409" stroke="#000" stroke-width="1.5"/>
<text x="513.22" y="418" font-size="8.6" text-anchor="middle" font-weight="bold" stroke="#000" stroke-width="0.3">40</text>
<line x1="554.68" y1="405.5" x2="554.68" y2="409" stroke="#000" stroke-width="1.5"/>
<text x="554.68" y="418" font-size="8.6" text-anchor="middle" font-weight="bold" stroke="#000" stroke-width="0.3">60</text>
<line x1="596.14" y1="405.5" x2="596.14" y2="409" stroke="#000" stroke-width="1.5"/>
<text x="596.14" y="418" font-size="8.6" text-anchor="middle" font-weight="bold" stroke="#000" stroke-width="0.3">80</text>
<line x1="637.6" y1="405.5" x2="637.6" y2="409" stroke="#000" stroke-width="1.5"/>
<text x="637.6" y="418" font-size="8.6" text-anchor="middle" font-weight="bold" stroke="#000" stroke-width="0.3">100</text>
<text x="537" y="430.9" font-size="10.6" text-anchor="middle" font-weight="bold" textLength="65.3" lengthAdjust="spacingAndGlyphs" stroke="#000" stroke-width="0.3">No. of cycles</text>
<text x="405.03" y="318.4" font-size="10.7" font-weight="bold" text-anchor="middle" fill="#000" textLength="140" lengthAdjust="spacingAndGlyphs" transform="rotate(-90 405.03 318.4)">Discharge capacity (mAh/g)</text>
<text x="672.1" y="319" font-size="10.6" font-weight="bold" text-anchor="middle" fill="#000" textLength="33.1" lengthAdjust="spacingAndGlyphs" transform="rotate(-90 672.1 319)">CE (%)</text>
<polyline points="432.4,232.2 434.45,308 436.52,321.7 438.59,328.64 440.67,330.87 442.74,332.47 444.81,332.81 446.88,332.06 448.96,331.31 451.03,330.61 453.1,329.97 455.18,329.33 457.25,329.31 459.32,329.45 461.39,329.6 463.47,329.74 465.54,329.88 467.61,330.02 469.69,330.25 471.76,330.59 473.83,330.94 475.91,331.28 477.98,331.63 480.05,331.98 482.12,332.32 484.2,332.7 486.27,333.11 488.34,333.53 490.42,333.94 492.49,334.36 494.56,334.78 496.64,335.2 498.71,335.63 500.78,336 502.86,336.26 504.93,336.52 507,336.78 509.07,336.98 511.15,337.15 513.22,337.31 515.29,337.47 517.37,337.64 519.44,337.8 521.51,338 523.59,338.25 525.66,338.5 527.73,338.75 529.8,339 531.88,339.25 533.95,339.5 536.02,339.75 538.1,340 540.17,340.25 542.24,340.47 544.32,340.64 546.39,340.81 548.46,340.98 550.53,341.15 552.61,341.32 554.68,341.49 556.75,341.66 558.83,341.83 560.9,342 562.97,342.14 565.05,342.24 567.12,342.34 569.19,342.44 571.26,342.54 573.34,342.64 575.41,342.74 577.48,342.84 579.56,342.94 581.63,343.04 583.7,343.14 585.77,343.24 587.85,343.35 589.92,343.45 591.99,343.55 594.07,343.65 596.14,343.75 598.21,343.85 600.29,343.95 602.36,344.05 604.43,344.17 606.5,344.33 608.58,344.48 610.65,344.63 612.72,344.78 614.8,344.93 616.87,345.08 618.94,345.23 621.02,345.38 623.09,345.53 625.16,345.28 627.24,344.66 629.31,344.03 631.38,343.41 633.45,343.48 635.53,344.23 637.6,344.98" fill="none" stroke="#c4c4c4" stroke-width="1.1"/>
<polyline points="432.4,232.2 434.45,263.1 436.52,275.8 438.59,277.32 440.67,277.95 442.74,278.78 444.81,280.12 446.88,281.93 448.96,283.72 451.03,284.53 453.1,284.6 455.18,284.6 457.25,284.75 459.32,284.94 461.39,285.29 463.47,286.61 465.54,287.91 467.61,288.6 469.69,288.65 471.76,287.82 473.83,286.99 475.91,286.27 477.98,285.59 480.05,284.91 482.12,285.05 484.2,285.88 486.27,286.71 488.34,286.6 490.42,286.37 492.49,285.96 494.56,284.93 496.64,283.91 498.71,282.88 500.78,282.1 502.86,282.87 504.93,283.63 507,283.99 509.07,283.71 511.15,283.43 513.22,283.15 515.29,282.88 517.37,282.54 519.44,282.11 521.51,281.68 523.59,281.25 525.66,281.25 527.73,281.84 529.8,282.44 531.88,283.04 533.95,282.6 536.02,282.05 538.1,281.49 540.17,280.93 542.24,280.41 544.32,279.95 546.39,279.49 548.46,279.03 550.53,279.89 552.61,280.85 554.68,281.4 556.75,281.4 558.83,281.4 560.9,281.4 562.97,281.16 565.05,280.6 567.12,280.04 569.19,279.47 571.26,278.91 573.34,278.83 575.41,279.33 577.48,279.82 579.56,280.32 581.63,280.38 583.7,279.88 585.77,279.38 587.85,278.88 589.92,278.32 591.99,277.68 594.07,277.05 596.14,276.41 598.21,275.78 600.29,275.14 602.36,275.39 604.43,276.66 606.5,277.93 608.58,278.28 610.65,277.61 612.72,276.93 614.8,276.26 616.87,275.37 618.94,274.25 621.02,273.12 623.09,271.99 625.16,270.86 627.24,270.72 629.31,271.55 631.38,272.39 633.45,273.09 635.53,273.66 637.6,274.23" fill="none" stroke="#7a7aff" stroke-width="1"/>
<circle cx="434.45" cy="308" r="2.4" fill="#ffdcdc" stroke="#ff6a6a" stroke-width="0.9"/>
<circle cx="436.52" cy="321.7" r="2.4" fill="#ffdcdc" stroke="#ff6a6a" stroke-width="0.9"/>
<circle cx="438.59" cy="328.64" r="2.4" fill="#ffdcdc" stroke="#ff6a6a" stroke-width="0.9"/>
<circle cx="440.67" cy="330.87" r="2.4" fill="#ffdcdc" stroke="#ff6a6a" stroke-width="0.9"/>
<circle cx="442.74" cy="332.47" r="2.4" fill="#ffdcdc" stroke="#ff6a6a" stroke-width="0.9"/>
<circle cx="444.81" cy="332.81" r="2.4" fill="#ffdcdc" stroke="#ff6a6a" stroke-width="0.9"/>
<circle cx="446.88" cy="332.06" r="2.4" fill="#ffdcdc" stroke="#ff6a6a" stroke-width="0.9"/>
<circle cx="448.96" cy="331.31" r="2.4" fill="#ffdcdc" stroke="#ff6a6a" stroke-width="0.9"/>
<circle cx="451.03" cy="330.61" r="2.4" fill="#ffdcdc" stroke="#ff6a6a" stroke-width="0.9"/>
<circle cx="453.1" cy="329.97" r="2.4" fill="#ffdcdc" stroke="#ff6a6a" stroke-width="0.9"/>
<circle cx="455.18" cy="329.33" r="2.4" fill="#ffdcdc" stroke="#ff6a6a" stroke-width="0.9"/>
<circle cx="457.25" cy="329.31" r="2.4" fill="#ffdcdc" stroke="#ff6a6a" stroke-width="0.9"/>
<circle cx="459.32" cy="329.45" r="2.4" fill="#ffdcdc" stroke="#ff6a6a" stroke-width="0.9"/>
<circle cx="461.39" cy="329.6" r="2.4" fill="#ffdcdc" stroke="#ff6a6a" stroke-width="0.9"/>
<circle cx="463.47" cy="329.74" r="2.4" fill="#ffdcdc" stroke="#ff6a6a" stroke-width="0.9"/>
<circle cx="465.54" cy="329.88" r="2.4" fill="#ffdcdc" stroke="#ff6a6a" stroke-width="0.9"/>
<circle cx="467.61" cy="330.02" r="2.4" fill="#ffdcdc" stroke="#ff6a6a" stroke-width="0.9"/>
<circle cx="469.69" cy="330.25" r="2.4" fill="#ffdcdc" stroke="#ff6a6a" stroke-width="0.9"/>
<circle cx="471.76" cy="330.59" r="2.4" fill="#ffdcdc" stroke="#ff6a6a" stroke-width="0.9"/>
<circle cx="473.83" cy="330.94" r="2.4" fill="#ffdcdc" stroke="#ff6a6a" stroke-width="0.9"/>
<circle cx="475.91" cy="331.28" r="2.4" fill="#ffdcdc" stroke="#ff6a6a" stroke-width="0.9"/>
<circle cx="477.98" cy="331.63" r="2.4" fill="#ffdcdc" stroke="#ff6a6a" stroke-width="0.9"/>
<circle cx="480.05" cy="331.98" r="2.4" fill="#ffdcdc" stroke="#ff6a6a" stroke-width="0.9"/>
<circle cx="482.12" cy="332.32" r="2.4" fill="#ffdcdc" stroke="#ff6a6a" stroke-width="0.9"/>
<circle cx="484.2" cy="332.7" r="2.4" fill="#ffdcdc" stroke="#ff6a6a" stroke-width="0.9"/>
<circle cx="486.27" cy="333.11" r="2.4" fill="#ffdcdc" stroke="#ff6a6a" stroke-width="0.9"/>
<circle cx="488.34" cy="333.53" r="2.4" fill="#ffdcdc" stroke="#ff6a6a" stroke-width="0.9"/>
<circle cx="490.42" cy="333.94" r="2.4" fill="#ffdcdc" stroke="#ff6a6a" stroke-width="0.9"/>
<circle cx="492.49" cy="334.36" r="2.4" fill="#ffdcdc" stroke="#ff6a6a" stroke-width="0.9"/>
<circle cx="494.56" cy="334.78" r="2.4" fill="#ffdcdc" stroke="#ff6a6a" stroke-width="0.9"/>
<circle cx="496.64" cy="335.2" r="2.4" fill="#ffdcdc" stroke="#ff6a6a" stroke-width="0.9"/>
<circle cx="498.71" cy="335.63" r="2.4" fill="#ffdcdc" stroke="#ff6a6a" stroke-width="0.9"/>
<circle cx="500.78" cy="336" r="2.4" fill="#ffdcdc" stroke="#ff6a6a" stroke-width="0.9"/>
<circle cx="502.86" cy="336.26" r="2.4" fill="#ffdcdc" stroke="#ff6a6a" stroke-width="0.9"/>
<circle cx="504.93" cy="336.52" r="2.4" fill="#ffdcdc" stroke="#ff6a6a" stroke-width="0.9"/>
<circle cx="507" cy="336.78" r="2.4" fill="#ffdcdc" stroke="#ff6a6a" stroke-width="0.9"/>
<circle cx="509.07" cy="336.98" r="2.4" fill="#ffdcdc" stroke="#ff6a6a" stroke-width="0.9"/>
<circle cx="511.15" cy="337.15" r="2.4" fill="#ffdcdc" stroke="#ff6a6a" stroke-width="0.9"/>
<circle cx="513.22" cy="337.31" r="2.4" fill="#ffdcdc" stroke="#ff6a6a" stroke-width="0.9"/>
<circle cx="515.29" cy="337.47" r="2.4" fill="#ffdcdc" stroke="#ff6a6a" stroke-width="0.9"/>
<circle cx="517.37" cy="337.64" r="2.4" fill="#ffdcdc" stroke="#ff6a6a" stroke-width="0.9"/>
<circle cx="519.44" cy="337.8" r="2.4" fill="#ffdcdc" stroke="#ff6a6a" stroke-width="0.9"/>
<circle cx="521.51" cy="338" r="2.4" fill="#ffdcdc" stroke="#ff6a6a" stroke-width="0.9"/>
<circle cx="523.59" cy="338.25" r="2.4" fill="#ffdcdc" stroke="#ff6a6a" stroke-width="0.9"/>
<circle cx="525.66" cy="338.5" r="2.4" fill="#ffdcdc" stroke="#ff6a6a" stroke-width="0.9"/>
<circle cx="527.73" cy="338.75" r="2.4" fill="#ffdcdc" stroke="#ff6a6a" stroke-width="0.9"/>
<circle cx="529.8" cy="339" r="2.4" fill="#ffdcdc" stroke="#ff6a6a" stroke-width="0.9"/>
<circle cx="531.88" cy="339.25" r="2.4" fill="#ffdcdc" stroke="#ff6a6a" stroke-width="0.9"/>
<circle cx="533.95" cy="339.5" r="2.4" fill="#ffdcdc" stroke="#ff6a6a" stroke-width="0.9"/>
<circle cx="536.02" cy="339.75" r="2.4" fill="#ffdcdc" stroke="#ff6a6a" stroke-width="0.9"/>
<circle cx="538.1" cy="340" r="2.4" fill="#ffdcdc" stroke="#ff6a6a" stroke-width="0.9"/>
<circle cx="540.17" cy="340.25" r="2.4" fill="#ffdcdc" stroke="#ff6a6a" stroke-width="0.9"/>
<circle cx="542.24" cy="340.47" r="2.4" fill="#ffdcdc" stroke="#ff6a6a" stroke-width="0.9"/>
<circle cx="544.32" cy="340.64" r="2.4" fill="#ffdcdc" stroke="#ff6a6a" stroke-width="0.9"/>
<circle cx="546.39" cy="340.81" r="2.4" fill="#ffdcdc" stroke="#ff6a6a" stroke-width="0.9"/>
<circle cx="548.46" cy="340.98" r="2.4" fill="#ffdcdc" stroke="#ff6a6a" stroke-width="0.9"/>
<circle cx="550.53" cy="341.15" r="2.4" fill="#ffdcdc" stroke="#ff6a6a" stroke-width="0.9"/>
<circle cx="552.61" cy="341.32" r="2.4" fill="#ffdcdc" stroke="#ff6a6a" stroke-width="0.9"/>
<circle cx="554.68" cy="341.49" r="2.4" fill="#ffdcdc" stroke="#ff6a6a" stroke-width="0.9"/>
<circle cx="556.75" cy="341.66" r="2.4" fill="#ffdcdc" stroke="#ff6a6a" stroke-width="0.9"/>
<circle cx="558.83" cy="341.83" r="2.4" fill="#ffdcdc" stroke="#ff6a6a" stroke-width="0.9"/>
<circle cx="560.9" cy="342" r="2.4" fill="#ffdcdc" stroke="#ff6a6a" stroke-width="0.9"/>
<circle cx="562.97" cy="342.14" r="2.4" fill="#ffdcdc" stroke="#ff6a6a" stroke-width="0.9"/>
<circle cx="565.05" cy="342.24" r="2.4" fill="#ffdcdc" stroke="#ff6a6a" stroke-width="0.9"/>
<circle cx="567.12" cy="342.34" r="2.4" fill="#ffdcdc" stroke="#ff6a6a" stroke-width="0.9"/>
<circle cx="569.19" cy="342.44" r="2.4" fill="#ffdcdc" stroke="#ff6a6a" stroke-width="0.9"/>
<circle cx="571.26" cy="342.54" r="2.4" fill="#ffdcdc" stroke="#ff6a6a" stroke-width="0.9"/>
<circle cx="573.34" cy="342.64" r="2.4" fill="#ffdcdc" stroke="#ff6a6a" stroke-width="0.9"/>
<circle cx="575.41" cy="342.74" r="2.4" fill="#ffdcdc" stroke="#ff6a6a" stroke-width="0.9"/>
<circle cx="577.48" cy="342.84" r="2.4" fill="#ffdcdc" stroke="#ff6a6a" stroke-width="0.9"/>
<circle cx="579.56" cy="342.94" r="2.4" fill="#ffdcdc" stroke="#ff6a6a" stroke-width="0.9"/>
<circle cx="581.63" cy="343.04" r="2.4" fill="#ffdcdc" stroke="#ff6a6a" stroke-width="0.9"/>
<circle cx="583.7" cy="343.14" r="2.4" fill="#ffdcdc" stroke="#ff6a6a" stroke-width="0.9"/>
<circle cx="585.77" cy="343.24" r="2.4" fill="#ffdcdc" stroke="#ff6a6a" stroke-width="0.9"/>
<circle cx="587.85" cy="343.35" r="2.4" fill="#ffdcdc" stroke="#ff6a6a" stroke-width="0.9"/>
<circle cx="589.92" cy="343.45" r="2.4" fill="#ffdcdc" stroke="#ff6a6a" stroke-width="0.9"/>
<circle cx="591.99" cy="343.55" r="2.4" fill="#ffdcdc" stroke="#ff6a6a" stroke-width="0.9"/>
<circle cx="594.07" cy="343.65" r="2.4" fill="#ffdcdc" stroke="#ff6a6a" stroke-width="0.9"/>
<circle cx="596.14" cy="343.75" r="2.4" fill="#ffdcdc" stroke="#ff6a6a" stroke-width="0.9"/>
<circle cx="598.21" cy="343.85" r="2.4" fill="#ffdcdc" stroke="#ff6a6a" stroke-width="0.9"/>
<circle cx="600.29" cy="343.95" r="2.4" fill="#ffdcdc" stroke="#ff6a6a" stroke-width="0.9"/>
<circle cx="602.36" cy="344.05" r="2.4" fill="#ffdcdc" stroke="#ff6a6a" stroke-width="0.9"/>
<circle cx="604.43" cy="344.17" r="2.4" fill="#ffdcdc" stroke="#ff6a6a" stroke-width="0.9"/>
<circle cx="606.5" cy="344.33" r="2.4" fill="#ffdcdc" stroke="#ff6a6a" stroke-width="0.9"/>
<circle cx="608.58" cy="344.48" r="2.4" fill="#ffdcdc" stroke="#ff6a6a" stroke-width="0.9"/>
<circle cx="610.65" cy="344.63" r="2.4" fill="#ffdcdc" stroke="#ff6a6a" stroke-width="0.9"/>
<circle cx="612.72" cy="344.78" r="2.4" fill="#ffdcdc" stroke="#ff6a6a" stroke-width="0.9"/>
<circle cx="614.8" cy="344.93" r="2.4" fill="#ffdcdc" stroke="#ff6a6a" stroke-width="0.9"/>
<circle cx="616.87" cy="345.08" r="2.4" fill="#ffdcdc" stroke="#ff6a6a" stroke-width="0.9"/>
<circle cx="618.94" cy="345.23" r="2.4" fill="#ffdcdc" stroke="#ff6a6a" stroke-width="0.9"/>
<circle cx="621.02" cy="345.38" r="2.4" fill="#ffdcdc" stroke="#ff6a6a" stroke-width="0.9"/>
<circle cx="623.09" cy="345.53" r="2.4" fill="#ffdcdc" stroke="#ff6a6a" stroke-width="0.9"/>
<circle cx="625.16" cy="345.28" r="2.4" fill="#ffdcdc" stroke="#ff6a6a" stroke-width="0.9"/>
<circle cx="627.24" cy="344.66" r="2.4" fill="#ffdcdc" stroke="#ff6a6a" stroke-width="0.9"/>
<circle cx="629.31" cy="344.03" r="2.4" fill="#ffdcdc" stroke="#ff6a6a" stroke-width="0.9"/>
<circle cx="631.38" cy="343.41" r="2.4" fill="#ffdcdc" stroke="#ff6a6a" stroke-width="0.9"/>
<circle cx="633.45" cy="343.48" r="2.4" fill="#ffdcdc" stroke="#ff6a6a" stroke-width="0.9"/>
<circle cx="635.53" cy="344.23" r="2.4" fill="#ffdcdc" stroke="#ff6a6a" stroke-width="0.9"/>
<circle cx="637.6" cy="344.98" r="2.4" fill="#ffdcdc" stroke="#ff6a6a" stroke-width="0.9"/>
<circle cx="434.45" cy="263.1" r="2.4" fill="#b8f0ff" stroke="#6a78ff" stroke-width="0.9"/>
<circle cx="436.52" cy="275.8" r="2.4" fill="#b8f0ff" stroke="#6a78ff" stroke-width="0.9"/>
<circle cx="438.59" cy="277.32" r="2.4" fill="#b8f0ff" stroke="#6a78ff" stroke-width="0.9"/>
<circle cx="440.67" cy="277.95" r="2.4" fill="#b8f0ff" stroke="#6a78ff" stroke-width="0.9"/>
<circle cx="442.74" cy="278.78" r="2.4" fill="#b8f0ff" stroke="#6a78ff" stroke-width="0.9"/>
<circle cx="444.81" cy="280.12" r="2.4" fill="#b8f0ff" stroke="#6a78ff" stroke-width="0.9"/>
<circle cx="446.88" cy="281.93" r="2.4" fill="#b8f0ff" stroke="#6a78ff" stroke-width="0.9"/>
<circle cx="448.96" cy="283.72" r="2.4" fill="#b8f0ff" stroke="#6a78ff" stroke-width="0.9"/>
<circle cx="451.03" cy="284.53" r="2.4" fill="#b8f0ff" stroke="#6a78ff" stroke-width="0.9"/>
<circle cx="453.1" cy="284.6" r="2.4" fill="#b8f0ff" stroke="#6a78ff" stroke-width="0.9"/>
<circle cx="455.18" cy="284.6" r="2.4" fill="#b8f0ff" stroke="#6a78ff" stroke-width="0.9"/>
<circle cx="457.25" cy="284.75" r="2.4" fill="#b8f0ff" stroke="#6a78ff" stroke-width="0.9"/>
<circle cx="459.32" cy="284.94" r="2.4" fill="#b8f0ff" stroke="#6a78ff" stroke-width="0.9"/>
<circle cx="461.39" cy="285.29" r="2.4" fill="#b8f0ff" stroke="#6a78ff" stroke-width="0.9"/>
<circle cx="463.47" cy="286.61" r="2.4" fill="#b8f0ff" stroke="#6a78ff" stroke-width="0.9"/>
<circle cx="465.54" cy="287.91" r="2.4" fill="#b8f0ff" stroke="#6a78ff" stroke-width="0.9"/>
<circle cx="467.61" cy="288.6" r="2.4" fill="#b8f0ff" stroke="#6a78ff" stroke-width="0.9"/>
<circle cx="469.69" cy="288.65" r="2.4" fill="#b8f0ff" stroke="#6a78ff" stroke-width="0.9"/>
<circle cx="471.76" cy="287.82" r="2.4" fill="#b8f0ff" stroke="#6a78ff" stroke-width="0.9"/>
<circle cx="473.83" cy="286.99" r="2.4" fill="#b8f0ff" stroke="#6a78ff" stroke-width="0.9"/>
<circle cx="475.91" cy="286.27" r="2.4" fill="#b8f0ff" stroke="#6a78ff" stroke-width="0.9"/>
<circle cx="477.98" cy="285.59" r="2.4" fill="#b8f0ff" stroke="#6a78ff" stroke-width="0.9"/>
<circle cx="480.05" cy="284.91" r="2.4" fill="#b8f0ff" stroke="#6a78ff" stroke-width="0.9"/>
<circle cx="482.12" cy="285.05" r="2.4" fill="#b8f0ff" stroke="#6a78ff" stroke-width="0.9"/>
<circle cx="484.2" cy="285.88" r="2.4" fill="#b8f0ff" stroke="#6a78ff" stroke-width="0.9"/>
<circle cx="486.27" cy="286.71" r="2.4" fill="#b8f0ff" stroke="#6a78ff" stroke-width="0.9"/>
<circle cx="488.34" cy="286.6" r="2.4" fill="#b8f0ff" stroke="#6a78ff" stroke-width="0.9"/>
<circle cx="490.42" cy="286.37" r="2.4" fill="#b8f0ff" stroke="#6a78ff" stroke-width="0.9"/>
<circle cx="492.49" cy="285.96" r="2.4" fill="#b8f0ff" stroke="#6a78ff" stroke-width="0.9"/>
<circle cx="494.56" cy="284.93" r="2.4" fill="#b8f0ff" stroke="#6a78ff" stroke-width="0.9"/>
<circle cx="496.64" cy="283.91" r="2.4" fill="#b8f0ff" stroke="#6a78ff" stroke-width="0.9"/>
<circle cx="498.71" cy="282.88" r="2.4" fill="#b8f0ff" stroke="#6a78ff" stroke-width="0.9"/>
<circle cx="500.78" cy="282.1" r="2.4" fill="#b8f0ff" stroke="#6a78ff" stroke-width="0.9"/>
<circle cx="502.86" cy="282.87" r="2.4" fill="#b8f0ff" stroke="#6a78ff" stroke-width="0.9"/>
<circle cx="504.93" cy="283.63" r="2.4" fill="#b8f0ff" stroke="#6a78ff" stroke-width="0.9"/>
<circle cx="507" cy="283.99" r="2.4" fill="#b8f0ff" stroke="#6a78ff" stroke-width="0.9"/>
<circle cx="509.07" cy="283.71" r="2.4" fill="#b8f0ff" stroke="#6a78ff" stroke-width="0.9"/>
<circle cx="511.15" cy="283.43" r="2.4" fill="#b8f0ff" stroke="#6a78ff" stroke-width="0.9"/>
<circle cx="513.22" cy="283.15" r="2.4" fill="#b8f0ff" stroke="#6a78ff" stroke-width="0.9"/>
<circle cx="515.29" cy="282.88" r="2.4" fill="#b8f0ff" stroke="#6a78ff" stroke-width="0.9"/>
<circle cx="517.37" cy="282.54" r="2.4" fill="#b8f0ff" stroke="#6a78ff" stroke-width="0.9"/>
<circle cx="519.44" cy="282.11" r="2.4" fill="#b8f0ff" stroke="#6a78ff" stroke-width="0.9"/>
<circle cx="521.51" cy="281.68" r="2.4" fill="#b8f0ff" stroke="#6a78ff" stroke-width="0.9"/>
<circle cx="523.59" cy="281.25" r="2.4" fill="#b8f0ff" stroke="#6a78ff" stroke-width="0.9"/>
<circle cx="525.66" cy="281.25" r="2.4" fill="#b8f0ff" stroke="#6a78ff" stroke-width="0.9"/>
<circle cx="527.73" cy="281.84" r="2.4" fill="#b8f0ff" stroke="#6a78ff" stroke-width="0.9"/>
<circle cx="529.8" cy="282.44" r="2.4" fill="#b8f0ff" stroke="#6a78ff" stroke-width="0.9"/>
<circle cx="531.88" cy="283.04" r="2.4" fill="#b8f0ff" stroke="#6a78ff" stroke-width="0.9"/>
<circle cx="533.95" cy="282.6" r="2.4" fill="#b8f0ff" stroke="#6a78ff" stroke-width="0.9"/>
<circle cx="536.02" cy="282.05" r="2.4" fill="#b8f0ff" stroke="#6a78ff" stroke-width="0.9"/>
<circle cx="538.1" cy="281.49" r="2.4" fill="#b8f0ff" stroke="#6a78ff" stroke-width="0.9"/>
<circle cx="540.17" cy="280.93" r="2.4" fill="#b8f0ff" stroke="#6a78ff" stroke-width="0.9"/>
<circle cx="542.24" cy="280.41" r="2.4" fill="#b8f0ff" stroke="#6a78ff" stroke-width="0.9"/>
<circle cx="544.32" cy="279.95" r="2.4" fill="#b8f0ff" stroke="#6a78ff" stroke-width="0.9"/>
<circle cx="546.39" cy="279.49" r="2.4" fill="#b8f0ff" stroke="#6a78ff" stroke-width="0.9"/>
<circle cx="548.46" cy="279.03" r="2.4" fill="#b8f0ff" stroke="#6a78ff" stroke-width="0.9"/>
<circle cx="550.53" cy="279.89" r="2.4" fill="#b8f0ff" stroke="#6a78ff" stroke-width="0.9"/>
<circle cx="552.61" cy="280.85" r="2.4" fill="#b8f0ff" stroke="#6a78ff" stroke-width="0.9"/>
<circle cx="554.68" cy="281.4" r="2.4" fill="#b8f0ff" stroke="#6a78ff" stroke-width="0.9"/>
<circle cx="556.75" cy="281.4" r="2.4" fill="#b8f0ff" stroke="#6a78ff" stroke-width="0.9"/>
<circle cx="558.83" cy="281.4" r="2.4" fill="#b8f0ff" stroke="#6a78ff" stroke-width="0.9"/>
<circle cx="560.9" cy="281.4" r="2.4" fill="#b8f0ff" stroke="#6a78ff" stroke-width="0.9"/>
<circle cx="562.97" cy="281.16" r="2.4" fill="#b8f0ff" stroke="#6a78ff" stroke-width="0.9"/>
<circle cx="565.05" cy="280.6" r="2.4" fill="#b8f0ff" stroke="#6a78ff" stroke-width="0.9"/>
<circle cx="567.12" cy="280.04" r="2.4" fill="#b8f0ff" stroke="#6a78ff" stroke-width="0.9"/>
<circle cx="569.19" cy="279.47" r="2.4" fill="#b8f0ff" stroke="#6a78ff" stroke-width="0.9"/>
<circle cx="571.26" cy="278.91" r="2.4" fill="#b8f0ff" stroke="#6a78ff" stroke-width="0.9"/>
<circle cx="573.34" cy="278.83" r="2.4" fill="#b8f0ff" stroke="#6a78ff" stroke-width="0.9"/>
<circle cx="575.41" cy="279.33" r="2.4" fill="#b8f0ff" stroke="#6a78ff" stroke-width="0.9"/>
<circle cx="577.48" cy="279.82" r="2.4" fill="#b8f0ff" stroke="#6a78ff" stroke-width="0.9"/>
<circle cx="579.56" cy="280.32" r="2.4" fill="#b8f0ff" stroke="#6a78ff" stroke-width="0.9"/>
<circle cx="581.63" cy="280.38" r="2.4" fill="#b8f0ff" stroke="#6a78ff" stroke-width="0.9"/>
<circle cx="583.7" cy="279.88" r="2.4" fill="#b8f0ff" stroke="#6a78ff" stroke-width="0.9"/>
<circle cx="585.77" cy="279.38" r="2.4" fill="#b8f0ff" stroke="#6a78ff" stroke-width="0.9"/>
<circle cx="587.85" cy="278.88" r="2.4" fill="#b8f0ff" stroke="#6a78ff" stroke-width="0.9"/>
<circle cx="589.92" cy="278.32" r="2.4" fill="#b8f0ff" stroke="#6a78ff" stroke-width="0.9"/>
<circle cx="591.99" cy="277.68" r="2.4" fill="#b8f0ff" stroke="#6a78ff" stroke-width="0.9"/>
<circle cx="594.07" cy="277.05" r="2.4" fill="#b8f0ff" stroke="#6a78ff" stroke-width="0.9"/>
<circle cx="596.14" cy="276.41" r="2.4" fill="#b8f0ff" stroke="#6a78ff" stroke-width="0.9"/>
<circle cx="598.21" cy="275.78" r="2.4" fill="#b8f0ff" stroke="#6a78ff" stroke-width="0.9"/>
<circle cx="600.29" cy="275.14" r="2.4" fill="#b8f0ff" stroke="#6a78ff" stroke-width="0.9"/>
<circle cx="602.36" cy="275.39" r="2.4" fill="#b8f0ff" stroke="#6a78ff" stroke-width="0.9"/>
<circle cx="604.43" cy="276.66" r="2.4" fill="#b8f0ff" stroke="#6a78ff" stroke-width="0.9"/>
<circle cx="606.5" cy="277.93" r="2.4" fill="#b8f0ff" stroke="#6a78ff" stroke-width="0.9"/>
<circle cx="608.58" cy="278.28" r="2.4" fill="#b8f0ff" stroke="#6a78ff" stroke-width="0.9"/>
<circle cx="610.65" cy="277.61" r="2.4" fill="#b8f0ff" stroke="#6a78ff" stroke-width="0.9"/>
<circle cx="612.72" cy="276.93" r="2.4" fill="#b8f0ff" stroke="#6a78ff" stroke-width="0.9"/>
<circle cx="614.8" cy="276.26" r="2.4" fill="#b8f0ff" stroke="#6a78ff" stroke-width="0.9"/>
<circle cx="616.87" cy="275.37" r="2.4" fill="#b8f0ff" stroke="#6a78ff" stroke-width="0.9"/>
<circle cx="618.94" cy="274.25" r="2.4" fill="#b8f0ff" stroke="#6a78ff" stroke-width="0.9"/>
<circle cx="621.02" cy="273.12" r="2.4" fill="#b8f0ff" stroke="#6a78ff" stroke-width="0.9"/>
<circle cx="623.09" cy="271.99" r="2.4" fill="#b8f0ff" stroke="#6a78ff" stroke-width="0.9"/>
<circle cx="625.16" cy="270.86" r="2.4" fill="#b8f0ff" stroke="#6a78ff" stroke-width="0.9"/>
<circle cx="627.24" cy="270.72" r="2.4" fill="#b8f0ff" stroke="#6a78ff" stroke-width="0.9"/>
<circle cx="629.31" cy="271.55" r="2.4" fill="#b8f0ff" stroke="#6a78ff" stroke-width="0.9"/>
<circle cx="631.38" cy="272.39" r="2.4" fill="#b8f0ff" stroke="#6a78ff" stroke-width="0.9"/>
<circle cx="633.45" cy="273.09" r="2.4" fill="#b8f0ff" stroke="#6a78ff" stroke-width="0.9"/>
<circle cx="635.53" cy="273.66" r="2.4" fill="#b8f0ff" stroke="#6a78ff" stroke-width="0.9"/>
<circle cx="637.6" cy="274.23" r="2.4" fill="#b8f0ff" stroke="#6a78ff" stroke-width="0.9"/>
<line x1="430.3" y1="232.2" x2="430.3" y2="405.5" stroke="#000" stroke-width="1.8"/>
<line x1="429.4" y1="405.5" x2="645.7" y2="405.5" stroke="#000" stroke-width="1.8"/>
<line x1="429.4" y1="232.2" x2="645.7" y2="232.2" stroke="#1a1aff" stroke-width="2"/>
<line x1="644.8" y1="232.2" x2="644.8" y2="406.4" stroke="#1a1aff" stroke-width="1.8"/>
<line x1="123.1" y1="618.3" x2="127.1" y2="618.3" stroke="#000" stroke-width="1.5"/>
<text x="120.5" y="620.54" font-size="9" text-anchor="end" font-weight="bold" stroke="#000" stroke-width="0.3">0.9</text>
<line x1="123.1" y1="590.04" x2="127.1" y2="590.04" stroke="#000" stroke-width="1.5"/>
<text x="120.5" y="592.28" font-size="9" text-anchor="end" font-weight="bold" stroke="#000" stroke-width="0.3">1.2</text>
<line x1="123.1" y1="561.78" x2="127.1" y2="561.78" stroke="#000" stroke-width="1.5"/>
<text x="120.5" y="564.02" font-size="9" text-anchor="end" font-weight="bold" stroke="#000" stroke-width="0.3">1.5</text>
<line x1="123.1" y1="533.52" x2="127.1" y2="533.52" stroke="#000" stroke-width="1.5"/>
<text x="120.5" y="535.76" font-size="9" text-anchor="end" font-weight="bold" stroke="#000" stroke-width="0.3">1.8</text>
<line x1="123.1" y1="505.26" x2="127.1" y2="505.26" stroke="#000" stroke-width="1.5"/>
<text x="120.5" y="507.5" font-size="9" text-anchor="end" font-weight="bold" stroke="#000" stroke-width="0.3">2.1</text>
<line x1="123.1" y1="477" x2="127.1" y2="477" stroke="#000" stroke-width="1.5"/>
<text x="120.5" y="479.24" font-size="9" text-anchor="end" font-weight="bold" stroke="#000" stroke-width="0.3">2.4</text>
<line x1="128" y1="632.6" x2="128" y2="636.6" stroke="#000" stroke-width="1.5"/>
<text x="128" y="646.6" font-size="9" text-anchor="middle" font-weight="bold" stroke="#000" stroke-width="0.3">0</text>
<line x1="190.25" y1="632.6" x2="190.25" y2="636.6" stroke="#000" stroke-width="1.5"/>
<text x="190.25" y="646.6" font-size="9" text-anchor="middle" font-weight="bold" stroke="#000" stroke-width="0.3">50</text>
<line x1="252.5" y1="632.6" x2="252.5" y2="636.6" stroke="#000" stroke-width="1.5"/>
<text x="252.5" y="646.6" font-size="9" text-anchor="middle" font-weight="bold" stroke="#000" stroke-width="0.3">100</text>
<line x1="314.75" y1="632.6" x2="314.75" y2="636.6" stroke="#000" stroke-width="1.5"/>
<text x="314.75" y="646.6" font-size="9" text-anchor="middle" font-weight="bold" stroke="#000" stroke-width="0.3">150</text>
<text x="238.8" y="659.2" font-size="10.9" text-anchor="middle" font-weight="bold" textLength="90" lengthAdjust="spacingAndGlyphs" stroke="#000" stroke-width="0.3">Capacity (mAh/g)</text>
<text x="102.06" y="537.7" font-size="11.1" font-weight="bold" text-anchor="middle" fill="#000" textLength="58.1" lengthAdjust="spacingAndGlyphs" transform="rotate(-90 102.06 537.7)">Voltage (V)</text>
<path d="M128.8,523 C128.8,530.33 128.78,538.45 128.8,545 C128.82,550.28 127.62,557.96 128.9,559.3 C129.37,559.79 129.84,559.38 130.8,559.4 C133.86,559.47 142.89,559.31 150,559.3 C158.89,559.29 170.76,559.2 180,559.4 C187.93,559.57 194.73,559.93 202.1,560.3 C209.47,560.67 217.98,561.15 224.2,561.6 C228.75,561.93 232.21,562.22 236,562.6 C239.53,562.96 242.75,563.34 246.2,563.8 C249.75,564.27 253.37,564.75 257,565.4 C260.73,566.07 264.82,566.74 268.3,567.8 C271.43,568.76 274.1,570.02 277,571.3 C280,572.62 283.12,574.05 286,575.6 C288.78,577.09 291.41,578.75 294,580.4 C296.54,582.02 299.03,583.67 301.4,585.4 C303.69,587.08 305.77,588.83 308,590.6 C310.3,592.43 312.67,594.32 315,596.2 C317.34,598.09 319.49,599.92 322,601.9 C324.84,604.14 328.13,606.57 331.2,608.9" fill="none" stroke="#ff2222" stroke-width="1.5" stroke-linejoin="round"/>
<path d="M128.7,497 C128.9,499.67 128.83,502.43 129.3,505 C129.75,507.49 130.44,509.93 131.4,512.2 C132.35,514.43 133.64,516.54 135,518.5 C136.34,520.43 138,522.1 139.5,523.9 C141,525.7 142.42,527.75 144,529.3 C145.43,530.7 146.96,531.83 148.5,532.9 C149.97,533.92 151.2,534.71 153,535.6 C155.45,536.81 159.27,538.25 162,539.2 C164.21,539.97 165.77,540.11 168.1,541 C171.45,542.27 176.21,544.78 180,546.6 C183.49,548.27 186.55,549.62 190,551.5 C193.89,553.62 198.33,555.85 202.1,558.8 C206.06,561.9 209.55,565.76 213.1,569.8 C216.94,574.17 220.46,579.54 224.2,584.2 C227.83,588.73 231.51,593.2 235.2,597.4 C238.72,601.41 242.27,605.07 245.8,608.9" fill="none" stroke="#2626ff" stroke-width="1.5" stroke-linejoin="round"/>
<path d="M128.7,492 C128.77,494.67 128.43,497.62 128.9,500 C129.3,502.04 129.97,503.91 131,505.5 C132.01,507.06 133.61,508.19 135,509.5 C136.44,510.85 138.04,512.05 139.5,513.5 C141.04,515.03 142.16,516.76 144,518.5 C146.41,520.78 150.61,523.64 153,525.7 C154.66,527.13 155.69,528.13 157.1,529.5 C158.68,531.04 160.37,532.5 162,534.5 C164.03,536.99 166.12,540.54 168.1,543.5 C170.02,546.37 171.78,549.09 173.7,552 C175.74,555.08 178.13,558.33 180,561.5 C181.77,564.49 183,567.33 184.7,570.5 C186.63,574.11 189.07,578.39 191,582 C192.7,585.17 194.14,588.21 195.7,591 C197.1,593.5 198.59,595.69 199.9,598 C201.15,600.19 202.42,602.53 203.4,604.5 C204.19,606.09 204.73,607.43 205.4,608.9" fill="none" stroke="#1e8c1e" stroke-width="1.5" stroke-linejoin="round"/>
<path d="M128.7,487 C128.83,490.33 128.47,493.95 129.1,497 C129.67,499.73 130.86,502.45 132,504.5 C132.9,506.11 133.91,507 135,508.5 C136.36,510.37 137.91,513.01 139.5,514.9 C140.93,516.6 142.19,517.78 144,519.4 C146.44,521.58 150.56,524.42 153,526.6 C154.81,528.22 156.1,529.32 157.5,531.1 C159.13,533.18 160.56,536.06 162,538.5 C163.39,540.86 164.61,542.75 166,545.5 C167.89,549.23 169.94,554.21 172,559 C174.32,564.4 177.2,571.35 179.2,576.3 C180.69,579.99 181.73,582.72 183,586 C184.3,589.35 185.69,592.59 186.9,596.2 C188.24,600.18 189.37,604.67 190.6,608.9" fill="none" stroke="#9a2cff" stroke-width="1.5" stroke-linejoin="round"/>
<path d="M128.8,476.6 C128.83,481.07 128.73,485.92 128.9,490 C129.04,493.44 129.17,496.71 129.6,499.5 C129.94,501.74 130.2,503.51 131,505.5 C131.91,507.74 133.54,510.14 135,512.2 C136.39,514.16 138.03,515.7 139.5,517.6 C141.04,519.59 142.56,521.62 144,523.9 C145.57,526.39 147.08,529.06 148.5,532 C150.1,535.3 151.55,539.03 153,542.8 C154.56,546.84 156.04,551.12 157.5,555.5 C159.04,560.14 160.56,565.17 162,569.9 C163.39,574.47 164.9,578.95 166,583.4 C167.05,587.65 167.79,591.76 168.5,596 C169.22,600.29 169.7,604.67 170.3,609" fill="none" stroke="#ff2cff" stroke-width="1.5" stroke-linejoin="round"/>
<path d="M128.7,476.6 C128.73,481.07 128.66,485.92 128.8,490 C128.92,493.44 128.96,496.65 129.4,499.5 C129.77,501.89 130.18,503.77 131,506 C131.95,508.58 133.52,511.55 135,514 C136.37,516.28 138.03,518.11 139.5,520.3 C141.04,522.6 142.56,524.93 144,527.5 C145.57,530.3 147.05,533.34 148.5,536.5 C150.06,539.91 151.57,543.46 153,547.3 C154.58,551.54 156.02,556.3 157.5,560.9 C159.02,565.63 160.81,570.62 162,575.3 C163.1,579.64 163.74,583.82 164.5,588 C165.24,592.05 165.96,596.28 166.5,600 C166.96,603.21 167.23,606 167.6,609" fill="none" stroke="#2cf4ff" stroke-width="1.5" stroke-linejoin="round"/>
<path d="M128.8,561 C129.53,558 130,554.97 131,552 C132.04,548.91 133.56,545.76 135,542.8 C136.4,539.93 137.83,536.79 139.5,534.5 C140.88,532.6 142.45,531.22 144,529.8 C145.46,528.47 146.93,527.12 148.5,526.2 C149.94,525.36 151.13,525.23 153,524.4 C156.23,522.96 161.18,519.94 166,518 C171.66,515.73 178.63,513.76 185,512 C191.3,510.26 197.33,509.15 204,507.5 C211.45,505.66 220.01,503.52 227.6,501.4 C234.75,499.41 242.16,497.49 248.3,495.2 C253.43,493.29 257.99,491.23 262.1,489 C265.67,487.06 269.07,485.06 271.7,482.8 C273.94,480.87 275.37,478.67 277.2,476.6" fill="none" stroke="#ff2222" stroke-width="1.5" stroke-linejoin="round"/>
<path d="M129.5,578 C130.33,574 131.04,569.8 132,566 C132.89,562.49 133.8,559.38 135,556 C136.28,552.39 137.93,548.46 139.5,545 C140.94,541.82 142.65,538.46 144,536 C144.98,534.22 145.53,533.15 146.7,531.5 C148.3,529.24 150.31,526.35 153,523.9 C156.4,520.8 161.11,517.67 166,515 C171.6,511.95 179.05,509.54 185,507 C190.3,504.74 195.5,502.42 200,500.5 C203.67,498.94 206.62,497.75 210,496.3 C213.51,494.79 217.47,492.97 220.7,491.6 C223.36,490.47 225.65,489.63 228,488.6 C230.24,487.62 232.56,486.63 234.5,485.6 C236.16,484.72 237.56,483.85 239,482.9 C240.39,481.98 241.7,481.04 243,480 C244.33,478.94 245.6,477.73 246.9,476.6" fill="none" stroke="#2626ff" stroke-width="1.5" stroke-linejoin="round"/>
<path d="M129.6,579.8 C130.4,576.53 131.08,573.18 132,570 C132.89,566.92 133.9,564.3 135,561 C136.35,556.95 138,552 139.5,547.5 C141,543 142.32,537.92 144,534 C145.38,530.78 146.9,528.05 148.5,525.5 C149.92,523.24 151.12,521.59 153,519.4 C155.52,516.47 159.53,512.52 162.6,509.8 C165.16,507.54 167.33,505.79 170,504 C172.83,502.1 176,500.56 179.2,498.8 C182.65,496.9 186.47,494.9 190,493 C193.4,491.17 196.84,489.4 200,487.6 C202.92,485.94 205.57,484.4 208.3,482.6 C211.11,480.75 213.83,478.6 216.6,476.6" fill="none" stroke="#1e8c1e" stroke-width="1.5" stroke-linejoin="round"/>
<path d="M129.4,581.6 C130.27,578.07 131.06,574.48 132,571 C132.93,567.58 133.89,564.57 135,560.9 C136.34,556.5 137.95,551.05 139.5,546.4 C140.96,542.04 142.38,537.6 144,533.8 C145.41,530.5 146.89,527.48 148.5,524.8 C149.91,522.45 151.28,520.74 153,518.5 C155.08,515.8 157.9,512.44 160.2,509.8 C162.21,507.5 163.89,505.63 166,503.5 C168.34,501.14 171.02,498.53 173.7,496.3 C176.35,494.1 179.24,492.16 182,490.2 C184.68,488.3 187.52,486.4 190,484.7 C192.14,483.23 194,481.95 196,480.6 C198,479.25 200,477.93 202,476.6" fill="none" stroke="#9a2cff" stroke-width="1.5" stroke-linejoin="round"/>
<path d="M129.2,578 C130.13,573.67 131,569.18 132,565 C132.94,561.06 133.85,557.61 135,553.6 C136.3,549.07 137.92,543.73 139.5,539.2 C140.94,535.07 142.3,531.18 144,527.5 C145.62,524.01 147.44,520.77 149.4,517.6 C151.34,514.47 153.76,511.3 155.7,508.6 C157.31,506.36 158.54,504.93 160.2,502.5 C162.52,499.11 165.74,493.54 168.1,490 C169.89,487.31 171.36,485.27 173,483 C174.59,480.81 176.2,478.73 177.8,476.6" fill="none" stroke="#ff2cff" stroke-width="1.5" stroke-linejoin="round"/>
<path d="M129.2,577 C130.53,569.83 131.8,561.94 133.2,555.5 C134.36,550.17 135.56,545.65 136.8,541 C137.96,536.64 139.1,532.22 140.4,528.4 C141.52,525.12 142.67,522.37 144,519.4 C145.36,516.37 146.98,512.89 148.5,510.4 C149.69,508.46 150.75,507.15 152.1,505.5 C153.59,503.68 155.45,501.84 157.1,500 C158.75,498.17 160.25,496.37 162,494.5 C163.9,492.47 166.39,490.48 168.1,488.3 C169.68,486.29 170.95,484.06 172,482 C172.93,480.17 173.47,478.4 174.2,476.6" fill="none" stroke="#2cf4ff" stroke-width="1.5" stroke-linejoin="round"/>
<rect x="301.6" y="458.8" width="43.7" height="83.8" fill="#fff" stroke="#b0b0b0" stroke-width="0.7"/>
<text x="323.3" y="469.2" font-size="6.6" text-anchor="middle" font-weight="bold" textLength="40.9" lengthAdjust="spacingAndGlyphs" stroke="#000" stroke-width="0.3">No. of cycles</text>
<line x1="302.5" y1="477.3" x2="324.2" y2="477.3" stroke="#ff2222" stroke-width="1.6"/>
<text x="326.2" y="479.68" font-size="6.6" font-weight="bold" stroke="#000" stroke-width="0.3">1</text>
<line x1="302.5" y1="489.2" x2="324.2" y2="489.2" stroke="#2626ff" stroke-width="1.6"/>
<text x="326.2" y="491.58" font-size="6.6" font-weight="bold" stroke="#000" stroke-width="0.3">2</text>
<line x1="302.5" y1="501" x2="324.2" y2="501" stroke="#1e8c1e" stroke-width="1.6"/>
<text x="326.2" y="503.38" font-size="6.6" font-weight="bold" stroke="#000" stroke-width="0.3">5</text>
<line x1="302.5" y1="512.9" x2="324.2" y2="512.9" stroke="#9a2cff" stroke-width="1.6"/>
<text x="326.2" y="515.28" font-size="6.6" font-weight="bold" stroke="#000" stroke-width="0.3">10</text>
<line x1="302.5" y1="524.4" x2="324.2" y2="524.4" stroke="#ff2cff" stroke-width="1.6"/>
<text x="326.2" y="526.78" font-size="6.6" font-weight="bold" stroke="#000" stroke-width="0.3">50</text>
<line x1="302.5" y1="536.2" x2="324.2" y2="536.2" stroke="#2cf4ff" stroke-width="1.6"/>
<text x="326.2" y="538.58" font-size="6.6" font-weight="bold" stroke="#000" stroke-width="0.3">100</text>
<rect x="127.1" y="453.4" width="223.7" height="179.2" fill="none" stroke="#000" stroke-width="1.8"/>
<line x1="423" y1="619.05" x2="427" y2="619.05" stroke="#000" stroke-width="1.5"/>
<text x="420.4" y="621.15" font-size="8.6" text-anchor="end" font-weight="bold" stroke="#000" stroke-width="0.3">0.9</text>
<line x1="423" y1="590.46" x2="427" y2="590.46" stroke="#000" stroke-width="1.5"/>
<text x="420.4" y="592.56" font-size="8.6" text-anchor="end" font-weight="bold" stroke="#000" stroke-width="0.3">1.2</text>
<line x1="423" y1="561.87" x2="427" y2="561.87" stroke="#000" stroke-width="1.5"/>
<text x="420.4" y="563.97" font-size="8.6" text-anchor="end" font-weight="bold" stroke="#000" stroke-width="0.3">1.5</text>
<line x1="423" y1="533.28" x2="427" y2="533.28" stroke="#000" stroke-width="1.5"/>
<text x="420.4" y="535.38" font-size="8.6" text-anchor="end" font-weight="bold" stroke="#000" stroke-width="0.3">1.8</text>
<line x1="423" y1="504.69" x2="427" y2="504.69" stroke="#000" stroke-width="1.5"/>
<text x="420.4" y="506.79" font-size="8.6" text-anchor="end" font-weight="bold" stroke="#000" stroke-width="0.3">2.1</text>
<line x1="423" y1="476.1" x2="427" y2="476.1" stroke="#000" stroke-width="1.5"/>
<text x="420.4" y="478.2" font-size="8.6" text-anchor="end" font-weight="bold" stroke="#000" stroke-width="0.3">2.4</text>
<line x1="429.1" y1="633" x2="429.1" y2="637" stroke="#000" stroke-width="1.5"/>
<text x="429.1" y="647.1" font-size="8.6" text-anchor="middle" font-weight="bold" stroke="#000" stroke-width="0.3">0</text>
<line x1="468.8" y1="633" x2="468.8" y2="637" stroke="#000" stroke-width="1.5"/>
<text x="468.8" y="647.1" font-size="8.6" text-anchor="middle" font-weight="bold" stroke="#000" stroke-width="0.3">50</text>
<line x1="508.5" y1="633" x2="508.5" y2="637" stroke="#000" stroke-width="1.5"/>
<text x="508.5" y="647.1" font-size="8.6" text-anchor="middle" font-weight="bold" stroke="#000" stroke-width="0.3">100</text>
<line x1="548.2" y1="633" x2="548.2" y2="637" stroke="#000" stroke-width="1.5"/>
<text x="548.2" y="647.1" font-size="8.6" text-anchor="middle" font-weight="bold" stroke="#000" stroke-width="0.3">150</text>
<line x1="587.9" y1="633" x2="587.9" y2="637" stroke="#000" stroke-width="1.5"/>
<text x="587.9" y="647.1" font-size="8.6" text-anchor="middle" font-weight="bold" stroke="#000" stroke-width="0.3">200</text>
<line x1="627.6" y1="633" x2="627.6" y2="637" stroke="#000" stroke-width="1.5"/>
<text x="627.6" y="647.1" font-size="8.6" text-anchor="middle" font-weight="bold" stroke="#000" stroke-width="0.3">250</text>
<text x="539.6" y="659.4" font-size="10.9" text-anchor="middle" font-weight="bold" textLength="91.5" lengthAdjust="spacingAndGlyphs" stroke="#000" stroke-width="0.3">Capacity (mAh/g)</text>
<text x="401.26" y="536.6" font-size="11.1" font-weight="bold" text-anchor="middle" fill="#000" textLength="58.1" lengthAdjust="spacingAndGlyphs" transform="rotate(-90 401.26 536.6)">Voltage (V)</text>
<path d="M429.2,535.1 C429.2,541.73 429.14,549.76 429.2,555 C429.24,558.43 428.51,562.07 429.4,563.5 C429.87,564.26 430.4,564.32 431.5,564.6 C434.57,565.37 443.65,564.7 450,564.8 C456.75,564.9 464.09,564.99 470.9,565.2 C477.41,565.4 482.72,565.64 490,566 C499.71,566.47 512.86,566.96 524,567.9 C534.82,568.81 545.74,570.08 555.9,571.5 C565.27,572.81 574.82,573.95 582.8,576 C589.45,577.71 595.4,579.71 600.7,582.3 C605.39,584.59 609.27,587.42 613.2,590.3 C617.02,593.1 620.16,596.28 624,599.3 C628.18,602.58 632.93,605.9 637.4,609.2" fill="none" stroke="#ff2222" stroke-width="1.5" stroke-linejoin="round"/>
<path d="M429,500 C429.07,502.67 429.07,505.07 429.2,508 C429.36,511.6 429.57,516.3 430,520 C430.38,523.23 430.78,526.22 431.5,529 C432.15,531.51 432.83,533.68 434,536 C435.31,538.61 436.78,541.38 439.2,543.8 C442.25,546.85 447.32,549.4 451.6,552.1 C456.04,554.9 461.67,557.7 465.4,560.3 C468.18,562.24 469.98,564.17 472.3,565.9 C474.52,567.56 476.74,568.93 479,570.5 C481.34,572.13 483.78,573.76 486.1,575.5 C488.44,577.26 490.77,578.93 493,581 C495.41,583.23 497.7,585.97 500,588.5 C502.3,591.03 504.58,593.72 506.8,596.2 C508.9,598.55 510.91,600.8 513,603 C515.05,605.16 517.13,607.2 519.2,609.3" fill="none" stroke="#2626ff" stroke-width="1.5" stroke-linejoin="round"/>
<path d="M429,495 C429.1,497.33 429.07,499.51 429.3,502 C429.56,504.86 429.66,508.29 430.6,511.2 C431.55,514.13 433.35,516.81 435,519.5 C436.68,522.24 438.88,525.02 440.6,527.5 C442.08,529.64 443.16,531.34 444.7,533.5 C446.55,536.1 448.75,539.19 451,542 C453.34,544.93 456.08,547.94 458.5,550.7 C460.73,553.25 462.78,555.46 465,558 C467.37,560.72 469.99,563.53 472.3,566.5 C474.66,569.53 476.8,572.61 479,576 C481.4,579.7 483.85,584.09 486.1,587.9 C488.17,591.4 489.99,594.54 492,598 C494.12,601.66 496.33,605.53 498.5,609.3" fill="none" stroke="#1e8c1e" stroke-width="1.5" stroke-linejoin="round"/>
<path d="M429.1,478 C429.2,482 429.17,486.13 429.4,490 C429.62,493.65 429.63,497.17 430.4,500.6 C431.17,504.01 432.56,507.52 434,510.5 C435.3,513.19 436.93,515.56 438.5,517.8 C439.94,519.86 441.46,521.68 443,523.5 C444.5,525.27 445.98,526.9 447.6,528.6 C449.31,530.4 451.14,532.11 453,534 C455.03,536.06 457.32,538.06 459.3,540.5 C461.47,543.17 463.42,546.54 465.4,549.5 C467.32,552.37 469.19,555.09 471,558 C472.86,560.98 474.65,564.11 476.4,567.2 C478.15,570.28 479.86,573.45 481.5,576.5 C483.08,579.44 484.49,582.07 486.1,585.2 C487.96,588.82 490.06,593.01 492,597 C493.97,601.05 495.87,605.2 497.8,609.3" fill="none" stroke="#9a2cff" stroke-width="1.5" stroke-linejoin="round"/>
<path d="M429.2,470 C429.37,474.33 429.17,478.66 429.7,483 C430.25,487.46 431.12,492.48 432.5,496.4 C433.68,499.73 435.49,502.71 437,505.2 C438.2,507.18 439.41,508.72 440.6,510.3 C441.68,511.73 442.65,512.76 443.8,514.3 C445.27,516.27 446.9,518.75 448.6,521.2 C450.54,524 452.73,527.18 454.8,530.2 C456.89,533.25 459.27,536.38 461.1,539.4 C462.76,542.14 463.94,544.77 465.4,547.5 C466.9,550.3 468.41,553.18 470,556 C471.61,558.85 473.45,561.51 475,564.5 C476.63,567.66 478.13,571.08 479.5,574.5 C480.9,577.98 482.07,581.53 483.3,585.2 C484.58,589.03 485.97,593 487,597 C488.04,601.03 488.67,605.2 489.5,609.3" fill="none" stroke="#ff2cff" stroke-width="1.5" stroke-linejoin="round"/>
<path d="M429.1,465.9 C429.23,471.47 428.92,477.35 429.5,482.6 C430.03,487.36 430.84,492.13 432.2,496.1 C433.36,499.49 434.94,502.16 436.7,505.1 C438.55,508.2 440.86,511.21 443.1,514.2 C445.38,517.24 448.24,520.24 450.3,523.2 C452.13,525.83 453.52,528.32 455,531 C456.52,533.75 457.98,536.8 459.3,539.5 C460.49,541.94 461.37,544 462.6,546.5 C464.05,549.44 465.9,552.78 467.5,556 C469.13,559.28 470.83,562.79 472.3,566 C473.64,568.94 474.83,571.71 476,574.5 C477.12,577.17 478.22,579.37 479.2,582.4 C480.45,586.28 481.63,591.47 482.5,596 C483.35,600.44 483.77,604.87 484.4,609.3" fill="none" stroke="#2cf4ff" stroke-width="1.5" stroke-linejoin="round"/>
<path d="M429.5,563 C430.27,555.33 430.98,547.06 431.8,540 C432.5,533.96 433.1,527.61 434,523.2 C434.59,520.27 435.2,518.21 436,516 C436.72,514.01 437.46,512.42 438.5,510.5 C439.74,508.22 441.17,505.38 443.1,503.3 C445.08,501.16 448.05,499.86 450.3,497.9 C452.54,495.95 454.57,493.9 456.6,491.6 C458.78,489.13 461.29,485.76 462.9,483.5 C464,481.96 464.68,480.66 465.5,479.5 C466.16,478.56 466.65,477.25 467.4,477 C468.02,476.79 468.79,477.17 469.5,477.6 C470.51,478.21 471.48,479.92 472.6,480.8 C473.66,481.63 474.78,482.33 476,482.8 C477.24,483.27 478.35,483.53 480,483.6 C482.61,483.72 486.67,482.94 490.2,482.5 C494.02,482.02 497.57,481.8 502.1,480.8 C508.36,479.42 517.35,476.15 524.1,474.2 C529.82,472.55 534.92,471.18 540,469.8 C544.66,468.53 548.93,467.4 553.4,466.2" fill="none" stroke="#ff2222" stroke-width="1.5" stroke-linejoin="round"/>
<path d="M429.5,567.2 C430.67,560.8 431.75,553.56 433,548 C433.98,543.66 434.97,540.4 436.1,536.5 C437.29,532.41 438.37,528.11 440,524 C441.68,519.77 443.32,515.2 446.1,511.5 C448.97,507.67 453.25,504.2 457.1,501.5 C460.62,499.03 464.33,497.52 468.1,495.7 C471.96,493.84 476.17,492.09 480,490.5 C483.52,489.04 486.68,487.93 490.2,486.5 C494.02,484.95 497.54,483.45 502.1,481.5 C508.3,478.85 517.43,474.74 524,472 C529.31,469.79 533.67,468.13 538.5,466.2" fill="none" stroke="#2626ff" stroke-width="1.5" stroke-linejoin="round"/>
<path d="M429.5,570 C431,563 432.32,555.05 434,549 C435.32,544.25 436.63,541.22 438.3,536.5 C440.49,530.29 442.58,520.93 446.1,515 C449.1,509.94 453.28,506.19 457.1,502.5 C460.63,499.09 464.27,496.26 468.1,493.5 C471.91,490.76 475.31,488.48 480,486 C486.13,482.76 496.01,479.1 502.1,476.4 C506.41,474.48 509.55,473.14 513.1,471.4 C516.51,469.73 519.7,467.93 523,466.2" fill="none" stroke="#1e8c1e" stroke-width="1.5" stroke-linejoin="round"/>
<path d="M429.5,575 C431.33,568.33 433.1,561.48 435,555 C436.81,548.83 438.14,543.27 440.6,537 C443.46,529.7 447.39,520.09 451.6,514 C454.93,509.19 458.27,506.07 462.6,502.5 C467.54,498.43 473.71,494.71 480,491.3 C486.8,487.62 495.41,485.11 502.1,481.4 C508.16,478.04 514.25,473.05 518.6,470.3 C521.36,468.55 523.2,467.57 525.5,466.2" fill="none" stroke="#9a2cff" stroke-width="1.5" stroke-linejoin="round"/>
<path d="M429.5,580.3 C431.33,573.53 433.04,566.97 435,560 C437.09,552.56 438.82,544.17 441.7,537 C444.42,530.22 447.77,523.27 451.6,518 C454.88,513.49 458.39,510.45 462.6,506.8 C467.42,502.62 474.14,498.34 479.2,494.6 C483.47,491.44 487.13,488.69 491,485.8 C494.76,482.99 498.71,480.45 502.1,477.5 C505.32,474.7 508.46,470.54 510.9,468.6 C512.38,467.43 513.5,467 514.8,466.2" fill="none" stroke="#ff2cff" stroke-width="1.5" stroke-linejoin="round"/>
<path d="M429.5,587.2 C431,580.13 432.05,573.57 434,566 C436.31,557.04 439.36,545.01 442.8,537 C445.44,530.86 448.28,526.36 451.6,521.5 C454.89,516.7 458.86,512.31 462.6,508 C466.23,503.82 470.46,499.23 473.7,496 C476.04,493.66 477.94,492.34 480,490.2 C482.24,487.87 484.3,485.12 486.6,482.5 C489.05,479.7 491.62,476.63 494.3,473.9 C496.95,471.2 499.83,468.77 502.6,466.2" fill="none" stroke="#2cf4ff" stroke-width="1.5" stroke-linejoin="round"/>
<rect x="603.4" y="461.2" width="31.9" height="59.9" fill="#fff" stroke="#b0b0b0" stroke-width="0.6"/>
<text x="619.4" y="468.9" font-size="4.9" text-anchor="middle" font-weight="600" textLength="30.3" lengthAdjust="spacingAndGlyphs">No. of cycles</text>
<line x1="604" y1="474.7" x2="619.8" y2="474.7" stroke="#ff2222" stroke-width="1.4"/>
<text x="621.4" y="476.83" font-size="4.8" font-weight="600">1</text>
<line x1="604" y1="482.9" x2="619.8" y2="482.9" stroke="#2626ff" stroke-width="1.4"/>
<text x="621.4" y="485.03" font-size="4.8" font-weight="600">2</text>
<line x1="604" y1="491.2" x2="619.8" y2="491.2" stroke="#1e8c1e" stroke-width="1.4"/>
<text x="621.4" y="493.33" font-size="4.8" font-weight="600">5</text>
<line x1="604" y1="499.5" x2="619.8" y2="499.5" stroke="#9a2cff" stroke-width="1.4"/>
<text x="621.4" y="501.63" font-size="4.8" font-weight="600">10</text>
<line x1="604" y1="508" x2="619.8" y2="508" stroke="#ff2cff" stroke-width="1.4"/>
<text x="621.4" y="510.13" font-size="4.8" font-weight="600">50</text>
<line x1="604" y1="516.4" x2="619.8" y2="516.4" stroke="#2cf4ff" stroke-width="1.4"/>
<text x="621.4" y="518.53" font-size="4.8" font-weight="600">100</text>
<rect x="427" y="452.1" width="225.3" height="180.9" fill="none" stroke="#000" stroke-width="1.8"/>
<line x1="60" y1="851.9" x2="64" y2="851.9" stroke="#000" stroke-width="1.3"/>
<text x="57.8" y="854.3" font-size="7.2" text-anchor="end" font-weight="bold" textLength="4.5" lengthAdjust="spacingAndGlyphs" stroke="#000" stroke-width="0.3">0</text>
<line x1="60" y1="808.55" x2="64" y2="808.55" stroke="#000" stroke-width="1.3"/>
<text x="57.8" y="810.95" font-size="7.2" text-anchor="end" font-weight="bold" textLength="9" lengthAdjust="spacingAndGlyphs" stroke="#000" stroke-width="0.3">50</text>
<line x1="60" y1="765.2" x2="64" y2="765.2" stroke="#000" stroke-width="1.3"/>
<text x="57.8" y="767.6" font-size="7.2" text-anchor="end" font-weight="bold" textLength="13.5" lengthAdjust="spacingAndGlyphs" stroke="#000" stroke-width="0.3">100</text>
<line x1="60" y1="721.85" x2="64" y2="721.85" stroke="#000" stroke-width="1.3"/>
<text x="57.8" y="724.25" font-size="7.2" text-anchor="end" font-weight="bold" textLength="13.5" lengthAdjust="spacingAndGlyphs" stroke="#000" stroke-width="0.3">150</text>
<line x1="60" y1="678.5" x2="64" y2="678.5" stroke="#000" stroke-width="1.3"/>
<text x="57.8" y="680.9" font-size="7.2" text-anchor="end" font-weight="bold" textLength="13.5" lengthAdjust="spacingAndGlyphs" stroke="#000" stroke-width="0.3">200</text>
<line x1="66" y1="856" x2="66" y2="860" stroke="#000" stroke-width="1.3"/>
<text x="66" y="869" font-size="7.6" text-anchor="middle" font-weight="bold" textLength="4.6" lengthAdjust="spacingAndGlyphs" stroke="#000" stroke-width="0.3">0</text>
<line x1="110.3" y1="856" x2="110.3" y2="860" stroke="#000" stroke-width="1.3"/>
<text x="110.3" y="869" font-size="7.6" text-anchor="middle" font-weight="bold" textLength="9.2" lengthAdjust="spacingAndGlyphs" stroke="#000" stroke-width="0.3">20</text>
<line x1="154.6" y1="856" x2="154.6" y2="860" stroke="#000" stroke-width="1.3"/>
<text x="154.6" y="869" font-size="7.6" text-anchor="middle" font-weight="bold" textLength="9.2" lengthAdjust="spacingAndGlyphs" stroke="#000" stroke-width="0.3">40</text>
<line x1="198.9" y1="856" x2="198.9" y2="860" stroke="#000" stroke-width="1.3"/>
<text x="198.9" y="869" font-size="7.6" text-anchor="middle" font-weight="bold" textLength="9.2" lengthAdjust="spacingAndGlyphs" stroke="#000" stroke-width="0.3">60</text>
<line x1="243.2" y1="856" x2="243.2" y2="860" stroke="#000" stroke-width="1.3"/>
<text x="243.2" y="869" font-size="7.6" text-anchor="middle" font-weight="bold" textLength="9.2" lengthAdjust="spacingAndGlyphs" stroke="#000" stroke-width="0.3">80</text>
<line x1="287.5" y1="856" x2="287.5" y2="860" stroke="#000" stroke-width="1.3"/>
<text x="287.5" y="869" font-size="7.6" text-anchor="middle" font-weight="bold" textLength="13.8" lengthAdjust="spacingAndGlyphs" stroke="#000" stroke-width="0.3">100</text>
<line x1="331.8" y1="856" x2="331.8" y2="860" stroke="#000" stroke-width="1.3"/>
<text x="331.8" y="869" font-size="7.6" text-anchor="middle" font-weight="bold" textLength="13.8" lengthAdjust="spacingAndGlyphs" stroke="#000" stroke-width="0.3">120</text>
<text x="196.8" y="883.4" font-size="11.4" text-anchor="middle" font-weight="bold" textLength="71" lengthAdjust="spacingAndGlyphs" stroke="#000" stroke-width="0.3">No. of cycles</text>
<text x="40.33" y="767.2" font-size="11" font-weight="bold" text-anchor="middle" fill="#000" textLength="146.3" lengthAdjust="spacingAndGlyphs" transform="rotate(-90 40.33 767.2)">Discharge capacity (mAh/g)</text>
<clipPath id="cg"><rect x="64" y="678" width="268" height="180"/></clipPath><g clip-path="url(#cg)">
<circle cx="68.22" cy="702.43" r="2.6" fill="#fff3d2" stroke="#ff7262" stroke-width="0.95"/>
<circle cx="70.43" cy="765.2" r="2.6" fill="#fff3d2" stroke="#ff7262" stroke-width="0.95"/>
<circle cx="72.64" cy="781.41" r="2.6" fill="#fff3d2" stroke="#ff7262" stroke-width="0.95"/>
<circle cx="74.86" cy="789.82" r="2.6" fill="#fff3d2" stroke="#ff7262" stroke-width="0.95"/>
<circle cx="77.08" cy="794.68" r="2.6" fill="#fff3d2" stroke="#ff7262" stroke-width="0.95"/>
<circle cx="79.29" cy="798.15" r="2.6" fill="#fff3d2" stroke="#ff7262" stroke-width="0.95"/>
<circle cx="81.5" cy="800.66" r="2.6" fill="#fff3d2" stroke="#ff7262" stroke-width="0.95"/>
<circle cx="83.72" cy="802.83" r="2.6" fill="#fff3d2" stroke="#ff7262" stroke-width="0.95"/>
<circle cx="85.94" cy="804.48" r="2.6" fill="#fff3d2" stroke="#ff7262" stroke-width="0.95"/>
<circle cx="88.15" cy="805.95" r="2.6" fill="#fff3d2" stroke="#ff7262" stroke-width="0.95"/>
<circle cx="90.36" cy="807.25" r="2.6" fill="#fff3d2" stroke="#ff7262" stroke-width="0.95"/>
<circle cx="92.58" cy="809.76" r="2.6" fill="#fff3d2" stroke="#ff7262" stroke-width="0.95"/>
<circle cx="94.8" cy="815.05" r="2.6" fill="#fff3d2" stroke="#ff7262" stroke-width="0.95"/>
<circle cx="97.01" cy="815.25" r="2.6" fill="#fff3d2" stroke="#ff7262" stroke-width="0.95"/>
<circle cx="99.22" cy="815.45" r="2.6" fill="#fff3d2" stroke="#ff7262" stroke-width="0.95"/>
<circle cx="101.44" cy="815.64" r="2.6" fill="#fff3d2" stroke="#ff7262" stroke-width="0.95"/>
<circle cx="103.66" cy="815.84" r="2.6" fill="#fff3d2" stroke="#ff7262" stroke-width="0.95"/>
<circle cx="105.87" cy="816.04" r="2.6" fill="#fff3d2" stroke="#ff7262" stroke-width="0.95"/>
<circle cx="108.08" cy="816.23" r="2.6" fill="#fff3d2" stroke="#ff7262" stroke-width="0.95"/>
<circle cx="110.3" cy="816.43" r="2.6" fill="#fff3d2" stroke="#ff7262" stroke-width="0.95"/>
<circle cx="112.52" cy="816.63" r="2.6" fill="#fff3d2" stroke="#ff7262" stroke-width="0.95"/>
<circle cx="114.73" cy="816.83" r="2.6" fill="#fff3d2" stroke="#ff7262" stroke-width="0.95"/>
<circle cx="116.94" cy="817.02" r="2.6" fill="#fff3d2" stroke="#ff7262" stroke-width="0.95"/>
<circle cx="119.16" cy="817.22" r="2.6" fill="#fff3d2" stroke="#ff7262" stroke-width="0.95"/>
<circle cx="125.8" cy="832.83" r="2.6" fill="#fff3d2" stroke="#ff7262" stroke-width="0.95"/>
<circle cx="128.02" cy="832.83" r="2.6" fill="#fff3d2" stroke="#ff7262" stroke-width="0.95"/>
<circle cx="130.24" cy="832.84" r="2.6" fill="#fff3d2" stroke="#ff7262" stroke-width="0.95"/>
<circle cx="132.45" cy="832.85" r="2.6" fill="#fff3d2" stroke="#ff7262" stroke-width="0.95"/>
<circle cx="134.66" cy="832.86" r="2.6" fill="#fff3d2" stroke="#ff7262" stroke-width="0.95"/>
<circle cx="136.88" cy="832.87" r="2.6" fill="#fff3d2" stroke="#ff7262" stroke-width="0.95"/>
<circle cx="139.09" cy="832.88" r="2.6" fill="#fff3d2" stroke="#ff7262" stroke-width="0.95"/>
<circle cx="141.31" cy="832.89" r="2.6" fill="#fff3d2" stroke="#ff7262" stroke-width="0.95"/>
<circle cx="143.52" cy="832.9" r="2.6" fill="#fff3d2" stroke="#ff7262" stroke-width="0.95"/>
<circle cx="145.74" cy="832.9" r="2.6" fill="#fff3d2" stroke="#ff7262" stroke-width="0.95"/>
<circle cx="147.95" cy="832.91" r="2.6" fill="#fff3d2" stroke="#ff7262" stroke-width="0.95"/>
<circle cx="156.81" cy="842.36" r="2.6" fill="#fff3d2" stroke="#ff7262" stroke-width="0.95"/>
<circle cx="159.03" cy="842.57" r="2.6" fill="#fff3d2" stroke="#ff7262" stroke-width="0.95"/>
<circle cx="161.25" cy="842.77" r="2.6" fill="#fff3d2" stroke="#ff7262" stroke-width="0.95"/>
<circle cx="163.46" cy="842.97" r="2.6" fill="#fff3d2" stroke="#ff7262" stroke-width="0.95"/>
<circle cx="165.68" cy="843.17" r="2.6" fill="#fff3d2" stroke="#ff7262" stroke-width="0.95"/>
<circle cx="167.89" cy="843.37" r="2.6" fill="#fff3d2" stroke="#ff7262" stroke-width="0.95"/>
<circle cx="170.1" cy="843.58" r="2.6" fill="#fff3d2" stroke="#ff7262" stroke-width="0.95"/>
<circle cx="172.32" cy="843.78" r="2.6" fill="#fff3d2" stroke="#ff7262" stroke-width="0.95"/>
<circle cx="174.53" cy="843.98" r="2.6" fill="#fff3d2" stroke="#ff7262" stroke-width="0.95"/>
<circle cx="176.75" cy="844.18" r="2.6" fill="#fff3d2" stroke="#ff7262" stroke-width="0.95"/>
<circle cx="181.18" cy="849.99" r="2.6" fill="#fff3d2" stroke="#ff7262" stroke-width="0.95"/>
<circle cx="183.39" cy="850.03" r="2.6" fill="#fff3d2" stroke="#ff7262" stroke-width="0.95"/>
<circle cx="185.61" cy="850.07" r="2.6" fill="#fff3d2" stroke="#ff7262" stroke-width="0.95"/>
<circle cx="187.82" cy="850.11" r="2.6" fill="#fff3d2" stroke="#ff7262" stroke-width="0.95"/>
<circle cx="190.04" cy="850.15" r="2.6" fill="#fff3d2" stroke="#ff7262" stroke-width="0.95"/>
<circle cx="192.25" cy="850.19" r="2.6" fill="#fff3d2" stroke="#ff7262" stroke-width="0.95"/>
<circle cx="194.47" cy="850.23" r="2.6" fill="#fff3d2" stroke="#ff7262" stroke-width="0.95"/>
<circle cx="196.69" cy="850.27" r="2.6" fill="#fff3d2" stroke="#ff7262" stroke-width="0.95"/>
<circle cx="198.9" cy="850.31" r="2.6" fill="#fff3d2" stroke="#ff7262" stroke-width="0.95"/>
<circle cx="201.11" cy="850.35" r="2.6" fill="#fff3d2" stroke="#ff7262" stroke-width="0.95"/>
<circle cx="203.33" cy="850.39" r="2.6" fill="#fff3d2" stroke="#ff7262" stroke-width="0.95"/>
<circle cx="205.54" cy="850.43" r="2.6" fill="#fff3d2" stroke="#ff7262" stroke-width="0.95"/>
<circle cx="212.19" cy="844.18" r="2.6" fill="#fff3d2" stroke="#ff7262" stroke-width="0.95"/>
<circle cx="214.41" cy="844.18" r="2.6" fill="#fff3d2" stroke="#ff7262" stroke-width="0.95"/>
<circle cx="216.62" cy="844.18" r="2.6" fill="#fff3d2" stroke="#ff7262" stroke-width="0.95"/>
<circle cx="218.83" cy="844.18" r="2.6" fill="#fff3d2" stroke="#ff7262" stroke-width="0.95"/>
<circle cx="221.05" cy="844.18" r="2.6" fill="#fff3d2" stroke="#ff7262" stroke-width="0.95"/>
<circle cx="223.26" cy="844.18" r="2.6" fill="#fff3d2" stroke="#ff7262" stroke-width="0.95"/>
<circle cx="225.48" cy="844.18" r="2.6" fill="#fff3d2" stroke="#ff7262" stroke-width="0.95"/>
<circle cx="227.69" cy="844.18" r="2.6" fill="#fff3d2" stroke="#ff7262" stroke-width="0.95"/>
<circle cx="229.91" cy="844.18" r="2.6" fill="#fff3d2" stroke="#ff7262" stroke-width="0.95"/>
<circle cx="232.12" cy="844.18" r="2.6" fill="#fff3d2" stroke="#ff7262" stroke-width="0.95"/>
<circle cx="234.34" cy="844.18" r="2.6" fill="#fff3d2" stroke="#ff7262" stroke-width="0.95"/>
<circle cx="240.98" cy="832.83" r="2.6" fill="#fff3d2" stroke="#ff7262" stroke-width="0.95"/>
<circle cx="243.2" cy="832.83" r="2.6" fill="#fff3d2" stroke="#ff7262" stroke-width="0.95"/>
<circle cx="245.41" cy="832.83" r="2.6" fill="#fff3d2" stroke="#ff7262" stroke-width="0.95"/>
<circle cx="247.63" cy="832.83" r="2.6" fill="#fff3d2" stroke="#ff7262" stroke-width="0.95"/>
<circle cx="249.84" cy="832.83" r="2.6" fill="#fff3d2" stroke="#ff7262" stroke-width="0.95"/>
<circle cx="252.06" cy="832.83" r="2.6" fill="#fff3d2" stroke="#ff7262" stroke-width="0.95"/>
<circle cx="254.27" cy="832.83" r="2.6" fill="#fff3d2" stroke="#ff7262" stroke-width="0.95"/>
<circle cx="256.49" cy="832.83" r="2.6" fill="#fff3d2" stroke="#ff7262" stroke-width="0.95"/>
<circle cx="258.7" cy="832.83" r="2.6" fill="#fff3d2" stroke="#ff7262" stroke-width="0.95"/>
<circle cx="260.92" cy="832.83" r="2.6" fill="#fff3d2" stroke="#ff7262" stroke-width="0.95"/>
<circle cx="263.13" cy="832.83" r="2.6" fill="#fff3d2" stroke="#ff7262" stroke-width="0.95"/>
<circle cx="272" cy="822.34" r="2.6" fill="#fff3d2" stroke="#ff7262" stroke-width="0.95"/>
<circle cx="274.21" cy="822.34" r="2.6" fill="#fff3d2" stroke="#ff7262" stroke-width="0.95"/>
<circle cx="276.42" cy="822.34" r="2.6" fill="#fff3d2" stroke="#ff7262" stroke-width="0.95"/>
<circle cx="278.64" cy="822.34" r="2.6" fill="#fff3d2" stroke="#ff7262" stroke-width="0.95"/>
<circle cx="280.86" cy="822.34" r="2.6" fill="#fff3d2" stroke="#ff7262" stroke-width="0.95"/>
<circle cx="283.07" cy="822.34" r="2.6" fill="#fff3d2" stroke="#ff7262" stroke-width="0.95"/>
<circle cx="285.28" cy="822.34" r="2.6" fill="#fff3d2" stroke="#ff7262" stroke-width="0.95"/>
<circle cx="287.5" cy="822.34" r="2.6" fill="#fff3d2" stroke="#ff7262" stroke-width="0.95"/>
<circle cx="289.71" cy="822.34" r="2.6" fill="#fff3d2" stroke="#ff7262" stroke-width="0.95"/>
<circle cx="291.93" cy="822.34" r="2.6" fill="#fff3d2" stroke="#ff7262" stroke-width="0.95"/>
<circle cx="294.14" cy="822.34" r="2.6" fill="#fff3d2" stroke="#ff7262" stroke-width="0.95"/>
<circle cx="296.36" cy="822.34" r="2.6" fill="#fff3d2" stroke="#ff7262" stroke-width="0.95"/>
<circle cx="298.57" cy="822.34" r="2.6" fill="#fff3d2" stroke="#ff7262" stroke-width="0.95"/>
<circle cx="305.22" cy="818.61" r="2.6" fill="#fff3d2" stroke="#ff7262" stroke-width="0.95"/>
<circle cx="307.43" cy="818.61" r="2.6" fill="#fff3d2" stroke="#ff7262" stroke-width="0.95"/>
<circle cx="309.65" cy="818.61" r="2.6" fill="#fff3d2" stroke="#ff7262" stroke-width="0.95"/>
<circle cx="311.87" cy="818.61" r="2.6" fill="#fff3d2" stroke="#ff7262" stroke-width="0.95"/>
<circle cx="314.08" cy="818.61" r="2.6" fill="#fff3d2" stroke="#ff7262" stroke-width="0.95"/>
<circle cx="316.29" cy="818.61" r="2.6" fill="#fff3d2" stroke="#ff7262" stroke-width="0.95"/>
<circle cx="318.51" cy="818.61" r="2.6" fill="#fff3d2" stroke="#ff7262" stroke-width="0.95"/>
<circle cx="320.73" cy="818.61" r="2.6" fill="#fff3d2" stroke="#ff7262" stroke-width="0.95"/>
<circle cx="322.94" cy="818.61" r="2.6" fill="#fff3d2" stroke="#ff7262" stroke-width="0.95"/>
<circle cx="325.15" cy="818.61" r="2.6" fill="#fff3d2" stroke="#ff7262" stroke-width="0.95"/>
<circle cx="327.37" cy="818.61" r="2.6" fill="#fff3d2" stroke="#ff7262" stroke-width="0.95"/>
<circle cx="329.58" cy="818.61" r="2.6" fill="#fff3d2" stroke="#ff7262" stroke-width="0.95"/>
<circle cx="331.8" cy="818.61" r="2.6" fill="#fff3d2" stroke="#ff7262" stroke-width="0.95"/>
</g>
<text x="73.6" y="768.5" font-size="6.4" font-weight="600" fill="#2a2a2a" textLength="24.8" lengthAdjust="spacingAndGlyphs">100mA/g</text>
<text x="96.8" y="806.2" font-size="6.4" font-weight="600" fill="#2a2a2a" textLength="24.8" lengthAdjust="spacingAndGlyphs">200mA/g</text>
<text x="126.5" y="824.3" font-size="6.4" font-weight="600" fill="#2a2a2a" textLength="25" lengthAdjust="spacingAndGlyphs">500mA/g</text>
<text x="122.7" y="852.2" font-size="6.4" font-weight="600" fill="#2a2a2a" textLength="27.3" lengthAdjust="spacingAndGlyphs">1000mA/g</text>
<text x="177.6" y="837.1" font-size="6.4" font-weight="600" fill="#2a2a2a" textLength="28.3" lengthAdjust="spacingAndGlyphs">2000mA/g</text>
<text x="239.1" y="852.2" font-size="6.4" font-weight="600" fill="#2a2a2a" textLength="27.6" lengthAdjust="spacingAndGlyphs">1000mA/g</text>
<text x="232.8" y="825.7" font-size="6.4" font-weight="600" fill="#2a2a2a" textLength="24.8" lengthAdjust="spacingAndGlyphs">500mA/g</text>
<text x="265.3" y="815.8" font-size="6.4" font-weight="600" fill="#2a2a2a" textLength="24.9" lengthAdjust="spacingAndGlyphs">200mA/g</text>
<text x="301.2" y="809.5" font-size="6.4" font-weight="600" fill="#2a2a2a" textLength="24.1" lengthAdjust="spacingAndGlyphs">100mA/g</text>
<rect x="64" y="678.4" width="268" height="177.6" fill="none" stroke="#000" stroke-width="1.8"/>
<line x1="392.6" y1="850" x2="396.6" y2="850" stroke="#000" stroke-width="1.5"/>
<text x="389.6" y="852.06" font-size="8.5" text-anchor="end" font-weight="bold" stroke="#000" stroke-width="0.3">0</text>
<line x1="392.6" y1="815.46" x2="396.6" y2="815.46" stroke="#000" stroke-width="1.5"/>
<text x="389.6" y="817.52" font-size="8.5" text-anchor="end" font-weight="bold" stroke="#000" stroke-width="0.3">20</text>
<line x1="392.6" y1="780.92" x2="396.6" y2="780.92" stroke="#000" stroke-width="1.5"/>
<text x="389.6" y="782.98" font-size="8.5" text-anchor="end" font-weight="bold" stroke="#000" stroke-width="0.3">40</text>
<line x1="392.6" y1="746.38" x2="396.6" y2="746.38" stroke="#000" stroke-width="1.5"/>
<text x="389.6" y="748.44" font-size="8.5" text-anchor="end" font-weight="bold" stroke="#000" stroke-width="0.3">60</text>
<line x1="392.6" y1="711.84" x2="396.6" y2="711.84" stroke="#000" stroke-width="1.5"/>
<text x="389.6" y="713.9" font-size="8.5" text-anchor="end" font-weight="bold" stroke="#000" stroke-width="0.3">80</text>
<line x1="392.6" y1="677.3" x2="396.6" y2="677.3" stroke="#000" stroke-width="1.5"/>
<text x="389.6" y="679.36" font-size="8.5" text-anchor="end" font-weight="bold" stroke="#000" stroke-width="0.3">100</text>
<line x1="396.4" y1="850" x2="396.4" y2="854" stroke="#000" stroke-width="1.5"/>
<text x="396.4" y="864.4" font-size="8.7" text-anchor="middle" font-weight="bold" stroke="#000" stroke-width="0.3">0</text>
<line x1="460.2" y1="850" x2="460.2" y2="854" stroke="#000" stroke-width="1.5"/>
<text x="460.2" y="864.4" font-size="8.7" text-anchor="middle" font-weight="bold" stroke="#000" stroke-width="0.3">20</text>
<line x1="524" y1="850" x2="524" y2="854" stroke="#000" stroke-width="1.5"/>
<text x="524" y="864.4" font-size="8.7" text-anchor="middle" font-weight="bold" stroke="#000" stroke-width="0.3">40</text>
<line x1="587.8" y1="850" x2="587.8" y2="854" stroke="#000" stroke-width="1.5"/>
<text x="587.8" y="864.4" font-size="8.7" text-anchor="middle" font-weight="bold" stroke="#000" stroke-width="0.3">60</text>
<line x1="651.6" y1="850" x2="651.6" y2="854" stroke="#000" stroke-width="1.5"/>
<text x="651.6" y="864.4" font-size="8.7" text-anchor="middle" font-weight="bold" stroke="#000" stroke-width="0.3">80</text>
<line x1="715.4" y1="850" x2="715.4" y2="854" stroke="#000" stroke-width="1.5"/>
<text x="715.4" y="864.4" font-size="8.7" text-anchor="middle" font-weight="bold" stroke="#000" stroke-width="0.3">100</text>
<text x="555.9" y="882.7" font-size="11.7" text-anchor="middle" font-weight="bold" textLength="72" lengthAdjust="spacingAndGlyphs" stroke="#000" stroke-width="0.3">No. of cycles</text>
<text x="370.83" y="764.1" font-size="11.9" font-weight="bold" text-anchor="middle" fill="#000" textLength="154.2" lengthAdjust="spacingAndGlyphs" transform="rotate(-90 370.83 764.1)">Discharge capacity(mAh/g)</text>
<circle cx="399.59" cy="709" r="2.4" fill="#fff2c6" stroke="#ff4a40" stroke-width="0.95"/>
<circle cx="402.78" cy="708.3" r="2.4" fill="#fff2c6" stroke="#ff4a40" stroke-width="0.95"/>
<circle cx="405.97" cy="709.2" r="2.4" fill="#fff2c6" stroke="#ff4a40" stroke-width="0.95"/>
<circle cx="409.16" cy="711" r="2.4" fill="#fff2c6" stroke="#ff4a40" stroke-width="0.95"/>
<circle cx="412.35" cy="714" r="2.4" fill="#fff2c6" stroke="#ff4a40" stroke-width="0.95"/>
<circle cx="415.54" cy="716.2" r="2.4" fill="#fff2c6" stroke="#ff4a40" stroke-width="0.95"/>
<circle cx="418.73" cy="718" r="2.4" fill="#fff2c6" stroke="#ff4a40" stroke-width="0.95"/>
<circle cx="421.92" cy="718.6" r="2.4" fill="#fff2c6" stroke="#ff4a40" stroke-width="0.95"/>
<circle cx="425.11" cy="717.8" r="2.4" fill="#fff2c6" stroke="#ff4a40" stroke-width="0.95"/>
<circle cx="428.3" cy="717" r="2.4" fill="#fff2c6" stroke="#ff4a40" stroke-width="0.95"/>
<circle cx="431.3" cy="729.7" r="2.4" fill="#fff2c6" stroke="#ff4a40" stroke-width="0.95"/>
<circle cx="434.5" cy="730.31" r="2.4" fill="#fff2c6" stroke="#ff4a40" stroke-width="0.95"/>
<circle cx="437.7" cy="730.92" r="2.4" fill="#fff2c6" stroke="#ff4a40" stroke-width="0.95"/>
<circle cx="440.9" cy="731.53" r="2.4" fill="#fff2c6" stroke="#ff4a40" stroke-width="0.95"/>
<circle cx="444.1" cy="732.14" r="2.4" fill="#fff2c6" stroke="#ff4a40" stroke-width="0.95"/>
<circle cx="447.3" cy="732.76" r="2.4" fill="#fff2c6" stroke="#ff4a40" stroke-width="0.95"/>
<circle cx="450.5" cy="733.37" r="2.4" fill="#fff2c6" stroke="#ff4a40" stroke-width="0.95"/>
<circle cx="453.7" cy="733.98" r="2.4" fill="#fff2c6" stroke="#ff4a40" stroke-width="0.95"/>
<circle cx="456.9" cy="734.59" r="2.4" fill="#fff2c6" stroke="#ff4a40" stroke-width="0.95"/>
<circle cx="460.1" cy="735.2" r="2.4" fill="#fff2c6" stroke="#ff4a40" stroke-width="0.95"/>
<circle cx="463.2" cy="756.6" r="2.4" fill="#fff2c6" stroke="#ff4a40" stroke-width="0.95"/>
<circle cx="466.4" cy="756.97" r="2.4" fill="#fff2c6" stroke="#ff4a40" stroke-width="0.95"/>
<circle cx="469.6" cy="757.33" r="2.4" fill="#fff2c6" stroke="#ff4a40" stroke-width="0.95"/>
<circle cx="472.8" cy="757.7" r="2.4" fill="#fff2c6" stroke="#ff4a40" stroke-width="0.95"/>
<circle cx="476" cy="758.07" r="2.4" fill="#fff2c6" stroke="#ff4a40" stroke-width="0.95"/>
<circle cx="479.2" cy="758.43" r="2.4" fill="#fff2c6" stroke="#ff4a40" stroke-width="0.95"/>
<circle cx="482.4" cy="758.8" r="2.4" fill="#fff2c6" stroke="#ff4a40" stroke-width="0.95"/>
<circle cx="485.6" cy="759.17" r="2.4" fill="#fff2c6" stroke="#ff4a40" stroke-width="0.95"/>
<circle cx="488.8" cy="759.53" r="2.4" fill="#fff2c6" stroke="#ff4a40" stroke-width="0.95"/>
<circle cx="492" cy="759.9" r="2.4" fill="#fff2c6" stroke="#ff4a40" stroke-width="0.95"/>
<circle cx="495.1" cy="778.4" r="2.4" fill="#fff2c6" stroke="#ff4a40" stroke-width="0.95"/>
<circle cx="498.29" cy="778.73" r="2.4" fill="#fff2c6" stroke="#ff4a40" stroke-width="0.95"/>
<circle cx="501.48" cy="779.07" r="2.4" fill="#fff2c6" stroke="#ff4a40" stroke-width="0.95"/>
<circle cx="504.67" cy="779.4" r="2.4" fill="#fff2c6" stroke="#ff4a40" stroke-width="0.95"/>
<circle cx="507.86" cy="779.73" r="2.4" fill="#fff2c6" stroke="#ff4a40" stroke-width="0.95"/>
<circle cx="511.04" cy="780.07" r="2.4" fill="#fff2c6" stroke="#ff4a40" stroke-width="0.95"/>
<circle cx="514.23" cy="780.4" r="2.4" fill="#fff2c6" stroke="#ff4a40" stroke-width="0.95"/>
<circle cx="517.42" cy="780.73" r="2.4" fill="#fff2c6" stroke="#ff4a40" stroke-width="0.95"/>
<circle cx="520.61" cy="781.07" r="2.4" fill="#fff2c6" stroke="#ff4a40" stroke-width="0.95"/>
<circle cx="523.8" cy="781.4" r="2.4" fill="#fff2c6" stroke="#ff4a40" stroke-width="0.95"/>
<circle cx="527" cy="805.1" r="2.4" fill="#fff2c6" stroke="#ff4a40" stroke-width="0.95"/>
<circle cx="530.19" cy="805.17" r="2.4" fill="#fff2c6" stroke="#ff4a40" stroke-width="0.95"/>
<circle cx="533.38" cy="805.23" r="2.4" fill="#fff2c6" stroke="#ff4a40" stroke-width="0.95"/>
<circle cx="536.57" cy="805.3" r="2.4" fill="#fff2c6" stroke="#ff4a40" stroke-width="0.95"/>
<circle cx="539.76" cy="805.37" r="2.4" fill="#fff2c6" stroke="#ff4a40" stroke-width="0.95"/>
<circle cx="542.94" cy="805.43" r="2.4" fill="#fff2c6" stroke="#ff4a40" stroke-width="0.95"/>
<circle cx="546.13" cy="805.5" r="2.4" fill="#fff2c6" stroke="#ff4a40" stroke-width="0.95"/>
<circle cx="549.32" cy="805.57" r="2.4" fill="#fff2c6" stroke="#ff4a40" stroke-width="0.95"/>
<circle cx="552.51" cy="805.63" r="2.4" fill="#fff2c6" stroke="#ff4a40" stroke-width="0.95"/>
<circle cx="555.7" cy="805.7" r="2.4" fill="#fff2c6" stroke="#ff4a40" stroke-width="0.95"/>
<circle cx="558.6" cy="776.2" r="2.4" fill="#fff2c6" stroke="#ff4a40" stroke-width="0.95"/>
<circle cx="561.8" cy="776.43" r="2.4" fill="#fff2c6" stroke="#ff4a40" stroke-width="0.95"/>
<circle cx="565" cy="776.67" r="2.4" fill="#fff2c6" stroke="#ff4a40" stroke-width="0.95"/>
<circle cx="568.2" cy="776.9" r="2.4" fill="#fff2c6" stroke="#ff4a40" stroke-width="0.95"/>
<circle cx="571.4" cy="777.13" r="2.4" fill="#fff2c6" stroke="#ff4a40" stroke-width="0.95"/>
<circle cx="574.6" cy="777.37" r="2.4" fill="#fff2c6" stroke="#ff4a40" stroke-width="0.95"/>
<circle cx="577.8" cy="777.6" r="2.4" fill="#fff2c6" stroke="#ff4a40" stroke-width="0.95"/>
<circle cx="581" cy="777.83" r="2.4" fill="#fff2c6" stroke="#ff4a40" stroke-width="0.95"/>
<circle cx="584.2" cy="778.07" r="2.4" fill="#fff2c6" stroke="#ff4a40" stroke-width="0.95"/>
<circle cx="587.4" cy="778.3" r="2.4" fill="#fff2c6" stroke="#ff4a40" stroke-width="0.95"/>
<circle cx="593.9" cy="757.8" r="2.4" fill="#fff2c6" stroke="#ff4a40" stroke-width="0.95"/>
<circle cx="597.07" cy="758.03" r="2.4" fill="#fff2c6" stroke="#ff4a40" stroke-width="0.95"/>
<circle cx="600.23" cy="758.27" r="2.4" fill="#fff2c6" stroke="#ff4a40" stroke-width="0.95"/>
<circle cx="603.4" cy="758.5" r="2.4" fill="#fff2c6" stroke="#ff4a40" stroke-width="0.95"/>
<circle cx="606.57" cy="758.73" r="2.4" fill="#fff2c6" stroke="#ff4a40" stroke-width="0.95"/>
<circle cx="609.73" cy="758.97" r="2.4" fill="#fff2c6" stroke="#ff4a40" stroke-width="0.95"/>
<circle cx="612.9" cy="759.2" r="2.4" fill="#fff2c6" stroke="#ff4a40" stroke-width="0.95"/>
<circle cx="616.07" cy="759.43" r="2.4" fill="#fff2c6" stroke="#ff4a40" stroke-width="0.95"/>
<circle cx="619.23" cy="759.67" r="2.4" fill="#fff2c6" stroke="#ff4a40" stroke-width="0.95"/>
<circle cx="622.4" cy="759.9" r="2.4" fill="#fff2c6" stroke="#ff4a40" stroke-width="0.95"/>
<circle cx="625.5" cy="733.8" r="2.4" fill="#fff2c6" stroke="#ff4a40" stroke-width="0.95"/>
<circle cx="628.72" cy="734.03" r="2.4" fill="#fff2c6" stroke="#ff4a40" stroke-width="0.95"/>
<circle cx="631.94" cy="734.27" r="2.4" fill="#fff2c6" stroke="#ff4a40" stroke-width="0.95"/>
<circle cx="635.17" cy="734.5" r="2.4" fill="#fff2c6" stroke="#ff4a40" stroke-width="0.95"/>
<circle cx="638.39" cy="734.73" r="2.4" fill="#fff2c6" stroke="#ff4a40" stroke-width="0.95"/>
<circle cx="641.61" cy="734.97" r="2.4" fill="#fff2c6" stroke="#ff4a40" stroke-width="0.95"/>
<circle cx="644.83" cy="735.2" r="2.4" fill="#fff2c6" stroke="#ff4a40" stroke-width="0.95"/>
<circle cx="648.06" cy="735.43" r="2.4" fill="#fff2c6" stroke="#ff4a40" stroke-width="0.95"/>
<circle cx="651.28" cy="735.67" r="2.4" fill="#fff2c6" stroke="#ff4a40" stroke-width="0.95"/>
<circle cx="654.5" cy="735.9" r="2.4" fill="#fff2c6" stroke="#ff4a40" stroke-width="0.95"/>
<circle cx="657.6" cy="719.3" r="2.4" fill="#fff2c6" stroke="#ff4a40" stroke-width="0.95"/>
<circle cx="661" cy="716.4" r="2.4" fill="#fff2c6" stroke="#ff4a40" stroke-width="0.95"/>
<circle cx="664.2" cy="716.8" r="2.4" fill="#fff2c6" stroke="#ff4a40" stroke-width="0.95"/>
<circle cx="667.39" cy="716.94" r="2.4" fill="#fff2c6" stroke="#ff4a40" stroke-width="0.95"/>
<circle cx="670.58" cy="717.07" r="2.4" fill="#fff2c6" stroke="#ff4a40" stroke-width="0.95"/>
<circle cx="673.76" cy="717.21" r="2.4" fill="#fff2c6" stroke="#ff4a40" stroke-width="0.95"/>
<circle cx="676.95" cy="717.35" r="2.4" fill="#fff2c6" stroke="#ff4a40" stroke-width="0.95"/>
<circle cx="680.14" cy="717.49" r="2.4" fill="#fff2c6" stroke="#ff4a40" stroke-width="0.95"/>
<circle cx="683.33" cy="717.62" r="2.4" fill="#fff2c6" stroke="#ff4a40" stroke-width="0.95"/>
<circle cx="686.51" cy="717.76" r="2.4" fill="#fff2c6" stroke="#ff4a40" stroke-width="0.95"/>
<circle cx="689.7" cy="717.9" r="2.4" fill="#fff2c6" stroke="#ff4a40" stroke-width="0.95"/>
<text x="400.2" y="700.1" font-size="6.6" font-weight="600" fill="#2a2a2a" textLength="27.6" lengthAdjust="spacingAndGlyphs" stroke="#2a2a2a" stroke-width="0.18">100 mA/g</text>
<text x="427.8" y="746.3" font-size="6.6" font-weight="600" fill="#2a2a2a" textLength="28.3" lengthAdjust="spacingAndGlyphs" stroke="#2a2a2a" stroke-width="0.18">200 mA/g</text>
<text x="459.6" y="770.2" font-size="6.6" font-weight="600" fill="#2a2a2a" textLength="28.2" lengthAdjust="spacingAndGlyphs" stroke="#2a2a2a" stroke-width="0.18">500 mA/g</text>
<text x="490.6" y="794.6" font-size="6.6" font-weight="600" fill="#2a2a2a" textLength="31.9" lengthAdjust="spacingAndGlyphs" stroke="#2a2a2a" stroke-width="0.18">1000 mA/g</text>
<text x="522.9" y="819.4" font-size="6.6" font-weight="600" fill="#2a2a2a" textLength="32.3" lengthAdjust="spacingAndGlyphs" stroke="#2a2a2a" stroke-width="0.18">2000 mA/g</text>
<text x="558.3" y="793.1" font-size="6.6" font-weight="600" fill="#2a2a2a" textLength="32" lengthAdjust="spacingAndGlyphs" stroke="#2a2a2a" stroke-width="0.18">1000 mA/g</text>
<text x="597.6" y="771.8" font-size="6.6" font-weight="600" fill="#2a2a2a" textLength="28.5" lengthAdjust="spacingAndGlyphs" stroke="#2a2a2a" stroke-width="0.18">500 mA/g</text>
<text x="626.6" y="748.2" font-size="6.6" font-weight="600" fill="#2a2a2a" textLength="28.9" lengthAdjust="spacingAndGlyphs" stroke="#2a2a2a" stroke-width="0.18">200 mA/g</text>
<text x="664.8" y="707.6" font-size="6.6" font-weight="600" fill="#2a2a2a" textLength="28" lengthAdjust="spacingAndGlyphs" stroke="#2a2a2a" stroke-width="0.18">100 mA/g</text>
<rect x="396.6" y="677" width="318.4" height="173" fill="none" stroke="#000" stroke-width="1.8"/>
<text x="59.26" y="21.55" font-size="25.86" stroke="#000" stroke-width="2.0" textLength="5.03" lengthAdjust="spacingAndGlyphs">(</text>
<text x="84.01" y="21.55" font-size="25.86" stroke="#000" stroke-width="2.0" textLength="5.15" lengthAdjust="spacingAndGlyphs">)</text>
<text x="67.86" y="22.3" font-size="25.55" font-weight="bold" stroke="#000" stroke-width="0.35" textLength="12.1" lengthAdjust="spacingAndGlyphs">a</text>
<text x="360.84" y="21.04" font-size="25.43" stroke="#000" stroke-width="2.0" textLength="5.15" lengthAdjust="spacingAndGlyphs">(</text>
<text x="386.81" y="21.04" font-size="25.43" stroke="#000" stroke-width="2.0" textLength="4.78" lengthAdjust="spacingAndGlyphs">)</text>
<text x="368.83" y="21" font-size="25.19" font-weight="bold" stroke="#000" stroke-width="0.35" textLength="14.55" lengthAdjust="spacingAndGlyphs">b</text>
<text x="64.88" y="238.04" font-size="25.43" stroke="#000" stroke-width="2.0" textLength="4.4" lengthAdjust="spacingAndGlyphs">(</text>
<text x="86.81" y="238.04" font-size="25.43" stroke="#000" stroke-width="2.0" textLength="4.78" lengthAdjust="spacingAndGlyphs">)</text>
<text x="72.44" y="238.51" font-size="24.27" font-weight="bold" stroke="#000" stroke-width="0.35" textLength="10.83" lengthAdjust="spacingAndGlyphs">c</text>
<text x="370.54" y="234.34" font-size="25.43" stroke="#000" stroke-width="2.0" textLength="5.15" lengthAdjust="spacingAndGlyphs">(</text>
<text x="396.81" y="234.34" font-size="25.43" stroke="#000" stroke-width="2.0" textLength="4.78" lengthAdjust="spacingAndGlyphs">)</text>
<text x="378.5" y="235.2" font-size="26.01" font-weight="bold" stroke="#000" stroke-width="0.35" textLength="14.91" lengthAdjust="spacingAndGlyphs">d</text>
<text x="66.21" y="464.14" font-size="25.43" stroke="#000" stroke-width="2.0" textLength="4.78" lengthAdjust="spacingAndGlyphs">(</text>
<text x="91.01" y="464.14" font-size="25.43" stroke="#000" stroke-width="2.0" textLength="4.78" lengthAdjust="spacingAndGlyphs">)</text>
<text x="73.8" y="464.9" font-size="25.73" font-weight="bold" stroke="#000" stroke-width="0.35" textLength="14.17" lengthAdjust="spacingAndGlyphs">e</text>
<text x="376.76" y="463.99" font-size="25.64" stroke="#000" stroke-width="2.0" textLength="5.03" lengthAdjust="spacingAndGlyphs">(</text>
<text x="396.71" y="463.99" font-size="25.64" stroke="#000" stroke-width="2.0" textLength="5.03" lengthAdjust="spacingAndGlyphs">)</text>
<text x="384.66" y="464.55" font-size="26.36" font-weight="bold" stroke="#000" stroke-width="0.35" textLength="8.48" lengthAdjust="spacingAndGlyphs">f</text>
<text x="2.38" y="678.19" font-size="25.64" stroke="#000" stroke-width="2.0" textLength="4.4" lengthAdjust="spacingAndGlyphs">(</text>
<text x="26.31" y="678.19" font-size="25.64" stroke="#000" stroke-width="2.0" textLength="5.03" lengthAdjust="spacingAndGlyphs">)</text>
<text x="9.75" y="678.73" font-size="24.65" font-weight="bold" stroke="#000" stroke-width="0.35" textLength="14.21" lengthAdjust="spacingAndGlyphs">g</text>
<text x="336.21" y="674.67" font-size="25.75" stroke="#000" stroke-width="2.0" textLength="4.78" lengthAdjust="spacingAndGlyphs">(</text>
<text x="362.11" y="674.67" font-size="25.75" stroke="#000" stroke-width="2.0" textLength="4.78" lengthAdjust="spacingAndGlyphs">)</text>
<text x="343.61" y="675.45" font-size="26.36" font-weight="bold" stroke="#000" stroke-width="0.35" textLength="15.68" lengthAdjust="spacingAndGlyphs">h</text>
</svg>
</body></html>
